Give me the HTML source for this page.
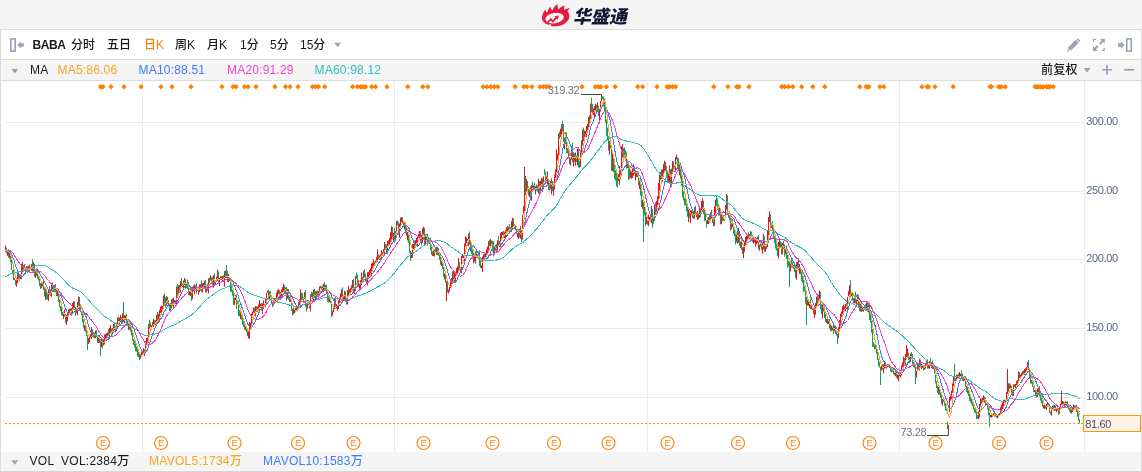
<!DOCTYPE html>
<html lang="zh-CN">
<head>
<meta charset="utf-8">
<title>华盛通 - BABA 日K</title>
<style>
html,body{margin:0;padding:0;}
body{width:1142px;height:472px;overflow:hidden;background:#f5f5f5;position:relative;font-family:"Liberation Sans","Noto Sans CJK SC",sans-serif;font-size:12px;color:#1a1a1a;}
.abs{position:absolute;}
#hdr{left:0;top:0;width:1142px;height:29px;background:#f5f5f5;border-bottom:1px solid #dcdcdc;}
#logo-t{left:571.5px;top:2px;font-family:"Noto Sans CJK SC","Liberation Sans",sans-serif;font-weight:900;font-size:18px;line-height:26px;color:#0f1a30;transform:skewX(-12deg);transform-origin:left bottom;letter-spacing:0px;white-space:nowrap;}
#panel{left:0;top:30px;width:1140px;height:441px;background:#fff;border-left:1px solid #dcdcdc;border-right:1px solid #dcdcdc;box-sizing:content-box;}
#tb{left:1px;top:30px;width:1140px;height:29px;background:#fff;border-bottom:1px solid #dcdcdc;}
#ma{left:1px;top:60px;width:1140px;height:20px;background:#f5f5f5;border-bottom:1px solid #dcdcdc;}
#vol{left:1px;top:452px;width:1140px;height:19px;background:#f5f5f5;}
#bot{left:0;top:471px;width:1142px;height:1px;background:#d6d6d6;}
.t{position:absolute;white-space:nowrap;line-height:14px;font-weight:500;}
.tb .t{top:38px;}
.mar .t{top:63px;letter-spacing:0.2px;}
.volr .t{top:454px;letter-spacing:0.27px;}
svg{position:absolute;left:0;top:0;}
svg text{font-family:"Liberation Sans","Noto Sans CJK SC",sans-serif;}
</style>
</head>
<body>
<div id="hdr" class="abs"></div>
<div id="panel" class="abs"></div>
<div id="tb" class="abs"></div>
<div id="ma" class="abs"></div>
<div id="vol" class="abs"></div>
<div id="bot" class="abs"></div>
<div id="logo-t" class="abs">华盛通</div>
<div class="tb">
<span class="t" style="left:32.5px;font-weight:bold;letter-spacing:-0.4px">BABA</span>
<span class="t" style="left:71px">分时</span>
<span class="t" style="left:107px">五日</span>
<span class="t" style="left:144px;color:#ff8000">日K</span>
<span class="t" style="left:175px">周K</span>
<span class="t" style="left:207px">月K</span>
<span class="t" style="left:240px">1分</span>
<span class="t" style="left:270px">5分</span>
<span class="t" style="left:300px">15分</span>
</div>
<div class="mar">
<span class="t" style="left:30px">MA</span>
<span class="t" style="left:57.5px;color:#f5a623">MA5:86.06</span>
<span class="t" style="left:138.5px;color:#3d7bff">MA10:88.51</span>
<span class="t" style="left:227px;color:#ff3ec8">MA20:91.29</span>
<span class="t" style="left:314.5px;color:#2fc1c1">MA60:98.12</span>
<span class="t" style="left:1041px">前复权</span>
</div>
<div class="volr">
<span class="t" style="left:29.5px">VOL</span>
<span class="t" style="left:61px">VOL:2384万</span>
<span class="t" style="left:149px;color:#f5a623">MAVOL5:1734万</span>
<span class="t" style="left:263px;color:#3d7bff">MAVOL10:1583万</span>
</div>
<svg width="1142" height="472" viewBox="0 0 1142 472">
<!-- logo -->
<g id="logo" fill="#e8193c">
<path d="M547.6,24.6C544,23 541.6,20.5 542,17.5C542.3,14.5 543.5,11.8 545.5,9.5C545.6,11 546.2,12 547.3,12.6C547.8,10.2 548.8,8.2 550.3,6.7C550.6,8.4 551.3,9.6 552.5,10.4C553.6,7.8 555.3,5.6 557.6,4.1C557.4,6.2 557.7,8 558.6,9.4C560.2,7.4 562.2,6 564.6,5.4C564,7 563.9,8.6 564.4,10C566.2,8.8 568.2,8.1 570.3,7.9C568.9,8.9 568,10.1 567.5,11.5C569.3,13.5 569.8,16 569,18.4C567.5,22.5 562.5,25.6 556.5,26.2C554.5,26.4 552.6,26.2 551,25.7L547.6,24.6Z"/>
</g>
<ellipse cx="554.6" cy="18.2" rx="9.3" ry="5.2" fill="#f5f5f5" transform="rotate(-9 554.6 18.2)"/>
<path d="M547.2,24.9L551.2,24.2L550.6,26.2Z" fill="#f5f5f5"/>
<path d="M547.9,22.3L550.7,19.2L552.8,21.4L556.3,17.6" fill="none" stroke="#e8193c" stroke-width="1.8"/>
<path d="M554.2,16.5L558.9,15.6L557.7,19.8Z" fill="#e8193c"/>
<!-- toolbar icons -->
<g fill="none" stroke="#98a2b8" stroke-width="1.6">
<rect x="10.8" y="38.9" width="4.4" height="12.2"/>
<rect x="1126.8" y="38.9" width="4.4" height="12.2"/>
</g>
<g fill="#98a2b8">
<path d="M17.3,45L20.8,41.3V43.2H23.8V46.8H20.8V48.7Z"/>
<path d="M1124.4,45.1L1120.9,41.4V43.3H1118V46.9H1120.9V48.8Z"/>
<path d="M334.3,42.8h6.8l-3.4,4.4z"/>
<path d="M11.3,69h7l-3.5,4.4z"/>
<path d="M11.3,460.3h7l-3.5,4.4z"/>
<path d="M1083.6,68h7l-3.5,4.4z"/>
<path d="M1102,68.9h10v1.7h-10zM1106.15,64.8h1.7v9.9h-1.7z"/>
<path d="M1124,68.9h10v1.7h-10z"/>
<!-- pencil -->
<path d="M1067.7,47.9L1075.8,39.8L1078.7,42.7L1070.6,50.8ZM1066.9,51.5L1067.4,48.9L1069.5,51ZM1076.5,39.1L1077.6,38L1080.4,40.8L1079.3,41.9Z"/>
<!-- fullscreen -->
<path d="M1092.9,39h3.2v1.1h-2.1v1.9h-1.1zM1104.8,50.9h-3.1v-1.1h2v-1.9h1.1zM1100.1,39H1104.8V43.7L1103.2,42.1L1100.6,44.7L1099.1,43.2L1101.7,40.6ZM1092.9,46.2V50.9H1097.6L1096,49.3L1098.6,46.7L1097.1,45.2L1094.5,47.8Z"/>
</g>
<!-- grid -->
<path d="M5,122.5H1084M5,191.5H1084M5,259.5H1084M5,328.5H1084M5,397.5H1084M142.5,81V452M394.5,81V452M647.5,81V452M899.5,81V452M1084.5,81V452" stroke="#ebebeb" stroke-width="1" fill="none"/>
<g font-size="11" fill="#5b6685" letter-spacing="-0.35"><text x="1086.3" y="124.9">300.00</text><text x="1086.3" y="193.9">250.00</text><text x="1086.3" y="261.9">200.00</text><text x="1086.3" y="330.9">150.00</text><text x="1086.3" y="399.9">100.00</text></g>
<!-- events -->
<path d="M97.8,86.8l2.7,-2.7l2.7,2.7l-2.7,2.7zM100.3,86.8l2.7,-2.7l2.7,2.7l-2.7,2.7zM108.3,86.8l2.7,-2.7l2.7,2.7l-2.7,2.7zM121.3,86.8l2.7,-2.7l2.7,2.7l-2.7,2.7zM138.3,86.8l2.7,-2.7l2.7,2.7l-2.7,2.7zM158.3,86.8l2.7,-2.7l2.7,2.7l-2.7,2.7zM169.3,86.8l2.7,-2.7l2.7,2.7l-2.7,2.7zM188.3,86.8l2.7,-2.7l2.7,2.7l-2.7,2.7zM219.3,86.8l2.7,-2.7l2.7,2.7l-2.7,2.7zM230.3,86.8l2.7,-2.7l2.7,2.7l-2.7,2.7zM233.3,86.8l2.7,-2.7l2.7,2.7l-2.7,2.7zM241.8,86.8l2.7,-2.7l2.7,2.7l-2.7,2.7zM245.3,86.8l2.7,-2.7l2.7,2.7l-2.7,2.7zM253.3,86.8l2.7,-2.7l2.7,2.7l-2.7,2.7zM272.3,86.8l2.7,-2.7l2.7,2.7l-2.7,2.7zM282.9,86.8l2.7,-2.7l2.7,2.7l-2.7,2.7zM287.3,86.8l2.7,-2.7l2.7,2.7l-2.7,2.7zM295.3,86.8l2.7,-2.7l2.7,2.7l-2.7,2.7zM309.7,86.8l2.7,-2.7l2.7,2.7l-2.7,2.7zM312.7,86.8l2.7,-2.7l2.7,2.7l-2.7,2.7zM315.7,86.8l2.7,-2.7l2.7,2.7l-2.7,2.7zM322.0,86.8l2.7,-2.7l2.7,2.7l-2.7,2.7zM349.8,86.8l2.7,-2.7l2.7,2.7l-2.7,2.7zM354.8,86.8l2.7,-2.7l2.7,2.7l-2.7,2.7zM357.8,86.8l2.7,-2.7l2.7,2.7l-2.7,2.7zM360.3,86.8l2.7,-2.7l2.7,2.7l-2.7,2.7zM362.8,86.8l2.7,-2.7l2.7,2.7l-2.7,2.7zM369.0,86.8l2.7,-2.7l2.7,2.7l-2.7,2.7zM372.8,86.8l2.7,-2.7l2.7,2.7l-2.7,2.7zM384.3,86.8l2.7,-2.7l2.7,2.7l-2.7,2.7zM405.1,86.8l2.7,-2.7l2.7,2.7l-2.7,2.7zM420.1,86.8l2.7,-2.7l2.7,2.7l-2.7,2.7zM425.1,86.8l2.7,-2.7l2.7,2.7l-2.7,2.7zM480.5,86.8l2.7,-2.7l2.7,2.7l-2.7,2.7zM484.3,86.8l2.7,-2.7l2.7,2.7l-2.7,2.7zM488.0,86.8l2.7,-2.7l2.7,2.7l-2.7,2.7zM491.5,86.8l2.7,-2.7l2.7,2.7l-2.7,2.7zM495.0,86.8l2.7,-2.7l2.7,2.7l-2.7,2.7zM512.5,86.8l2.7,-2.7l2.7,2.7l-2.7,2.7zM521.1,86.8l2.7,-2.7l2.7,2.7l-2.7,2.7zM524.1,86.8l2.7,-2.7l2.7,2.7l-2.7,2.7zM529.1,86.8l2.7,-2.7l2.7,2.7l-2.7,2.7zM537.3,86.8l2.7,-2.7l2.7,2.7l-2.7,2.7zM540.6,86.8l2.7,-2.7l2.7,2.7l-2.7,2.7zM543.6,86.8l2.7,-2.7l2.7,2.7l-2.7,2.7zM546.6,86.8l2.7,-2.7l2.7,2.7l-2.7,2.7zM579.3,86.8l2.7,-2.7l2.7,2.7l-2.7,2.7zM592.7,86.8l2.7,-2.7l2.7,2.7l-2.7,2.7zM595.7,86.8l2.7,-2.7l2.7,2.7l-2.7,2.7zM598.3,86.8l2.7,-2.7l2.7,2.7l-2.7,2.7zM603.7,86.8l2.7,-2.7l2.7,2.7l-2.7,2.7zM612.5,86.8l2.7,-2.7l2.7,2.7l-2.7,2.7zM635.0,86.8l2.7,-2.7l2.7,2.7l-2.7,2.7zM640.0,86.8l2.7,-2.7l2.7,2.7l-2.7,2.7zM654.3,86.8l2.7,-2.7l2.7,2.7l-2.7,2.7zM664.3,86.8l2.7,-2.7l2.7,2.7l-2.7,2.7zM666.8,86.8l2.7,-2.7l2.7,2.7l-2.7,2.7zM669.8,86.8l2.7,-2.7l2.7,2.7l-2.7,2.7zM672.8,86.8l2.7,-2.7l2.7,2.7l-2.7,2.7zM711.1,86.8l2.7,-2.7l2.7,2.7l-2.7,2.7zM725.2,86.8l2.7,-2.7l2.7,2.7l-2.7,2.7zM733.9,86.8l2.7,-2.7l2.7,2.7l-2.7,2.7zM736.4,86.8l2.7,-2.7l2.7,2.7l-2.7,2.7zM746.2,86.8l2.7,-2.7l2.7,2.7l-2.7,2.7zM779.0,86.8l2.7,-2.7l2.7,2.7l-2.7,2.7zM782.0,86.8l2.7,-2.7l2.7,2.7l-2.7,2.7zM785.8,86.8l2.7,-2.7l2.7,2.7l-2.7,2.7zM790.3,86.8l2.7,-2.7l2.7,2.7l-2.7,2.7zM799.0,86.8l2.7,-2.7l2.7,2.7l-2.7,2.7zM810.1,86.8l2.7,-2.7l2.7,2.7l-2.7,2.7zM822.1,86.8l2.7,-2.7l2.7,2.7l-2.7,2.7zM857.1,86.8l2.7,-2.7l2.7,2.7l-2.7,2.7zM863.4,86.8l2.7,-2.7l2.7,2.7l-2.7,2.7zM866.2,86.8l2.7,-2.7l2.7,2.7l-2.7,2.7zM877.2,86.8l2.7,-2.7l2.7,2.7l-2.7,2.7zM881.2,86.8l2.7,-2.7l2.7,2.7l-2.7,2.7zM919.3,86.8l2.7,-2.7l2.7,2.7l-2.7,2.7zM924.5,86.8l2.7,-2.7l2.7,2.7l-2.7,2.7zM925.9,86.8l2.7,-2.7l2.7,2.7l-2.7,2.7zM932.3,86.8l2.7,-2.7l2.7,2.7l-2.7,2.7zM950.5,86.8l2.7,-2.7l2.7,2.7l-2.7,2.7zM987.3,86.8l2.7,-2.7l2.7,2.7l-2.7,2.7zM988.8,86.8l2.7,-2.7l2.7,2.7l-2.7,2.7zM996.0,86.8l2.7,-2.7l2.7,2.7l-2.7,2.7zM998.6,86.8l2.7,-2.7l2.7,2.7l-2.7,2.7zM1002.6,86.8l2.7,-2.7l2.7,2.7l-2.7,2.7zM1032.3,86.8l2.7,-2.7l2.7,2.7l-2.7,2.7zM1034.1,86.8l2.7,-2.7l2.7,2.7l-2.7,2.7zM1036.1,86.8l2.7,-2.7l2.7,2.7l-2.7,2.7zM1038.1,86.8l2.7,-2.7l2.7,2.7l-2.7,2.7zM1040.6,86.8l2.7,-2.7l2.7,2.7l-2.7,2.7zM1043.6,86.8l2.7,-2.7l2.7,2.7l-2.7,2.7zM1045.6,86.8l2.7,-2.7l2.7,2.7l-2.7,2.7zM1047.6,86.8l2.7,-2.7l2.7,2.7l-2.7,2.7zM1050.6,86.8l2.7,-2.7l2.7,2.7l-2.7,2.7z" fill="#ff8000"/>
<!-- candles -->
<path d="M5.5,245.5V250.3M7.5,250.9V255.9M9.5,252.9V258.3M14.5,278.1V280.4M16.5,280.2V286.7M17.5,270.8V283.1M19.5,274.3V280.9M20.5,274.6V279.1M21.5,263.8V279.2M22.5,261.8V273.5M26.5,266.1V271.7M28.5,265.7V270.6M30.5,267.8V270.2M31.5,264.1V270.5M33.5,262.0V271.4M35.5,269.0V277.8M41.5,283.2V288.3M42.5,283.1V286.2M45.5,289.3V299.9M48.5,290.1V301.1M51.5,285.0V296.8M54.5,284.8V290.6M57.5,289.6V296.4M63.5,313.6V319.1M64.5,309.6V316.4M66.5,314.9V325.1M67.5,313.7V321.3M68.5,309.5V316.2M69.5,308.7V312.9M70.5,308.6V310.8M72.5,302.9V313.0M73.5,301.1V308.4M76.5,308.1V313.0M77.5,302.2V315.1M78.5,296.5V305.6M84.5,325.2V330.9M88.5,338.1V343.8M89.5,336.0V342.2M90.5,334.3V338.1M91.5,327.0V339.2M95.5,330.7V338.2M98.5,334.9V343.0M101.5,339.0V347.2M103.5,339.0V345.3M104.5,334.6V344.5M105.5,333.8V338.5M107.5,332.5V337.9M109.5,327.7V339.0M110.5,325.0V333.5M112.5,328.1V335.1M113.5,323.7V331.1M116.5,322.6V331.0M117.5,317.6V328.0M119.5,317.6V325.4M120.5,314.9V322.3M122.5,313.4V323.5M124.5,315.1V323.2M125.5,315.4V318.3M128.5,323.4V329.8M140.5,354.6V358.6M141.5,351.5V356.5M142.5,350.8V354.1M143.5,348.3V352.9M144.5,349.1V355.9M145.5,341.1V352.9M146.5,338.1V343.3M147.5,337.4V341.7M148.5,324.0V342.9M151.5,325.3V329.3M152.5,321.9V327.1M153.5,318.7V327.1M155.5,320.1V325.3M156.5,314.9V323.6M158.5,313.9V322.4M159.5,310.1V320.5M160.5,306.7V313.1M161.5,305.7V312.0M162.5,306.0V310.5M163.5,295.3V308.6M166.5,296.3V305.6M171.5,299.4V308.3M173.5,297.8V308.0M174.5,300.1V303.9M175.5,299.8V304.2M176.5,286.5V304.8M178.5,285.2V296.5M180.5,281.2V292.7M182.5,283.6V287.0M183.5,280.6V288.3M184.5,278.0V285.1M189.5,291.0V295.3M190.5,288.4V296.1M192.5,286.8V299.0M194.5,284.2V294.2M195.5,285.5V290.8M198.5,289.4V294.9M199.5,284.4V292.1M200.5,284.2V290.6M202.5,283.5V292.4M203.5,282.9V286.3M204.5,280.7V287.8M206.5,286.6V292.6M208.5,278.2V293.3M210.5,275.1V280.4M213.5,275.2V287.7M215.5,281.7V285.3M216.5,276.6V282.1M217.5,269.5V278.8M219.5,277.9V286.2M220.5,276.3V279.5M221.5,276.2V279.6M222.5,276.0V281.4M224.5,271.0V286.6M228.5,273.8V282.3M229.5,278.4V281.0M234.5,297.7V304.8M235.5,295.1V300.1M240.5,312.3V319.3M245.5,326.5V330.4M248.5,331.7V338.4M249.5,321.9V338.7M250.5,322.7V329.1M251.5,313.4V328.6M252.5,311.8V315.5M253.5,307.5V312.7M255.5,306.2V316.4M257.5,306.5V312.0M258.5,304.4V310.6M259.5,300.2V312.9M260.5,303.7V308.0M262.5,303.7V313.8M263.5,300.3V308.8M264.5,304.2V306.7M265.5,299.1V307.3M266.5,292.5V301.1M267.5,290.7V292.5M269.5,291.4V300.5M273.5,301.2V305.7M275.5,299.6V302.2M276.5,292.5V300.7M277.5,290.3V296.5M278.5,288.9V293.7M280.5,291.7V299.6M281.5,289.3V297.0M282.5,287.0V292.4M283.5,283.7V290.9M287.5,288.8V298.8M290.5,299.3V302.0M293.5,308.3V314.5M294.5,308.9V312.9M296.5,307.5V310.7M297.5,307.4V309.8M298.5,302.3V308.6M299.5,299.3V307.7M300.5,289.4V303.2M304.5,292.0V298.8M307.5,303.9V308.7M308.5,301.8V304.9M310.5,294.2V311.4M313.5,289.6V300.9M316.5,291.4V297.9M318.5,291.2V296.5M319.5,286.5V295.6M321.5,286.6V290.1M323.5,283.8V292.4M325.5,284.9V290.7M329.5,298.4V302.0M332.5,310.8V315.7M333.5,307.5V312.1M334.5,297.8V309.1M336.5,304.1V308.4M337.5,304.8V310.6M338.5,300.4V309.2M339.5,297.5V303.3M340.5,293.4V299.9M341.5,289.5V297.0M343.5,295.1V299.0M344.5,290.8V300.1M347.5,290.2V304.7M348.5,286.0V295.1M350.5,288.1V293.8M351.5,285.4V291.6M352.5,279.9V290.6M354.5,288.0V293.8M355.5,276.2V290.0M358.5,280.2V286.7M359.5,283.6V288.7M360.5,280.2V288.8M361.5,272.5V285.2M363.5,270.9V280.7M367.5,272.2V285.5M368.5,272.1V277.9M369.5,270.1V275.7M370.5,268.4V275.7M371.5,263.4V274.4M372.5,262.5V271.2M373.5,259.3V268.4M375.5,260.5V263.7M376.5,257.3V260.6M377.5,249.4V262.0M379.5,255.6V259.7M380.5,254.3V261.4M381.5,250.2V258.2M382.5,252.0V254.7M383.5,249.1V253.8M384.5,242.0V255.1M387.5,241.0V253.6M388.5,240.5V244.8M389.5,238.1V245.2M390.5,232.3V242.7M391.5,226.3V240.0M393.5,232.9V240.3M395.5,231.1V240.8M396.5,220.8V233.4M399.5,223.5V237.8M400.5,217.6V227.6M401.5,217.3V222.1M404.5,222.8V229.6M407.5,232.1V240.5M411.5,252.4V257.8M412.5,243.9V257.9M413.5,244.0V249.3M415.5,240.1V247.8M416.5,237.9V244.7M417.5,235.9V246.9M418.5,233.9V238.1M419.5,231.0V239.1M421.5,234.7V245.3M422.5,228.3V242.7M423.5,226.8V234.0M425.5,234.2V245.3M429.5,239.4V244.1M433.5,250.6V256.0M434.5,249.7V256.5M436.5,247.1V254.8M441.5,261.0V266.0M444.5,273.5V279.4M446.5,280.8V301.0M448.5,289.5V293.6M449.5,285.7V291.4M450.5,281.2V288.0M451.5,278.1V286.4M452.5,271.3V282.1M454.5,272.6V281.7M455.5,274.2V282.1M456.5,267.9V276.1M457.5,266.6V273.2M458.5,258.2V271.0M460.5,268.7V271.9M461.5,255.8V273.4M462.5,253.9V258.0M463.5,255.1V258.0M464.5,243.5V262.2M465.5,236.3V246.4M466.5,237.5V243.0M467.5,239.0V240.7M468.5,233.5V246.1M474.5,256.9V261.8M475.5,251.6V263.5M477.5,254.5V257.7M481.5,265.3V268.4M482.5,256.4V272.0M483.5,254.2V260.3M485.5,253.0V261.2M486.5,249.4V257.3M487.5,246.7V255.1M488.5,241.3V251.2M490.5,239.0V247.0M494.5,245.9V254.4M497.5,240.4V250.7M499.5,241.2V246.8M500.5,232.7V247.4M501.5,232.1V238.5M502.5,231.7V235.1M504.5,232.2V238.2M505.5,230.4V237.2M506.5,227.3V231.5M507.5,225.9V232.5M511.5,221.1V230.0M512.5,217.9V229.7M517.5,233.2V237.4M518.5,232.1V238.9M520.5,226.1V238.9M522.5,214.6V239.8M523.5,206.3V213.7M524.5,167.0V211.5M526.5,179.0V191.4M529.5,189.6V197.1M531.5,184.8V200.5M533.5,185.7V189.1M535.5,186.3V194.2M536.5,184.6V190.5M538.5,178.8V193.4M540.5,180.8V190.7M541.5,177.9V184.6M543.5,176.3V189.1M546.5,176.6V181.1M547.5,171.4V184.5M551.5,178.5V194.4M553.5,186.9V195.8M554.5,174.5V189.5M555.5,169.3V177.8M556.5,149.3V172.6M557.5,153.8V160.5M558.5,133.6V160.5M560.5,128.8V136.8M561.5,124.2V134.3M564.5,137.8V149.1M570.5,158.6V165.5M571.5,149.4V159.8M573.5,153.1V166.5M575.5,152.4V165.6M577.5,148.5V165.3M580.5,150.3V167.1M581.5,140.4V153.4M582.5,129.6V145.5M584.5,130.6V138.7M585.5,131.1V135.1M586.5,125.9V137.2M587.5,123.9V130.9M588.5,116.9V127.8M590.5,103.6V120.5M593.5,108.3V115.2M594.5,106.0V117.2M595.5,103.8V111.4M597.5,102.5V110.1M599.5,109.3V123.6M600.5,101.1V111.6M601.5,95.0V101.5M609.5,140.9V154.7M612.5,151.6V171.1M618.5,174.3V181.0M619.5,166.2V184.9M620.5,169.7V178.9M621.5,146.3V175.3M622.5,144.0V157.3M627.5,162.6V168.0M630.5,170.2V177.7M631.5,171.9V178.8M632.5,168.3V178.1M633.5,164.2V175.6M635.5,172.6V180.5M636.5,171.8V176.9M639.5,181.1V188.9M642.5,200.1V208.7M646.5,216.7V224.0M648.5,214.6V226.1M649.5,217.1V221.3M651.5,206.0V223.2M654.5,205.1V221.0M656.5,201.0V215.3M657.5,196.1V205.9M658.5,182.8V201.5M659.5,172.4V190.6M660.5,172.2V179.8M662.5,169.5V181.5M663.5,164.2V176.7M664.5,160.8V171.7M668.5,172.5V182.8M669.5,165.4V182.7M671.5,168.7V183.5M672.5,161.0V171.1M674.5,165.6V168.3M675.5,157.0V170.3M676.5,154.6V159.3M679.5,162.8V175.3M688.5,208.6V222.1M690.5,210.4V223.2M691.5,210.3V215.2M694.5,207.2V218.3M696.5,212.6V217.1M697.5,211.2V219.9M699.5,208.4V218.2M701.5,201.0V213.4M702.5,198.2V209.6M707.5,219.3V224.1M708.5,217.1V224.0M710.5,212.5V221.1M714.5,206.3V225.9M715.5,199.7V217.8M719.5,207.5V215.4M721.5,214.7V224.5M723.5,216.3V220.6M724.5,217.7V221.1M725.5,205.1V217.4M726.5,194.2V209.7M731.5,223.3V229.4M732.5,219.1V227.0M736.5,234.2V242.3M738.5,227.9V242.8M740.5,241.7V248.1M743.5,244.7V258.1M744.5,241.8V251.8M745.5,236.6V245.2M746.5,235.5V241.6M747.5,234.5V242.5M749.5,234.1V239.6M753.5,238.0V243.6M754.5,236.9V242.4M755.5,239.3V246.3M756.5,238.6V244.5M757.5,236.5V242.8M759.5,244.6V250.9M760.5,241.2V246.2M762.5,243.2V253.7M763.5,234.0V249.2M765.5,244.5V251.5M766.5,244.1V248.9M767.5,230.5V247.1M768.5,217.0V235.6M769.5,211.5V222.3M771.5,224.5V228.2M778.5,242.0V258.6M779.5,240.0V248.4M782.5,243.0V254.3M785.5,248.0V254.2M790.5,262.4V271.3M793.5,265.0V268.7M796.5,262.4V279.8M797.5,262.0V265.9M799.5,264.1V273.8M807.5,299.6V305.6M808.5,301.6V305.8M809.5,302.0V307.8M811.5,305.3V309.2M812.5,308.2V309.9M814.5,307.7V318.1M815.5,303.0V314.7M816.5,296.7V306.7M818.5,294.9V304.5M819.5,290.3V300.0M822.5,303.2V318.2M827.5,318.3V324.2M828.5,319.5V324.0M831.5,325.3V330.8M832.5,326.7V330.4M834.5,325.2V331.2M838.5,327.2V338.2M839.5,319.9V331.1M840.5,313.7V324.9M841.5,311.4V316.9M842.5,306.1V313.9M843.5,304.5V310.4M844.5,306.5V309.0M845.5,304.0V311.5M847.5,296.9V311.4M848.5,291.1V296.2M849.5,285.0V295.3M851.5,293.3V296.1M854.5,295.4V303.5M856.5,300.0V305.5M857.5,294.3V301.4M860.5,301.6V311.5M862.5,305.9V311.2M863.5,307.0V311.7M866.5,302.4V310.2M868.5,304.1V312.6M881.5,365.6V370.3M883.5,364.4V373.5M884.5,361.8V368.7M886.5,365.9V368.7M887.5,363.9V367.3M889.5,364.5V368.1M892.5,368.8V371.3M895.5,371.3V376.4M897.5,374.5V378.8M898.5,373.1V381.3M899.5,372.4V376.2M900.5,372.3V377.3M901.5,365.3V375.6M902.5,362.4V367.5M903.5,356.7V365.9M905.5,353.9V365.6M906.5,345.0V357.2M907.5,348.3V357.5M910.5,353.5V362.1M916.5,371.0V377.5M917.5,364.6V370.8M919.5,359.1V370.5M921.5,363.6V368.8M922.5,364.6V367.7M924.5,365.5V369.7M925.5,362.8V368.6M926.5,360.4V363.9M928.5,364.0V368.5M929.5,361.4V368.6M931.5,362.4V368.1M933.5,363.7V369.1M938.5,386.9V394.4M942.5,398.9V405.7M948.5,425.0V435.0M949.5,397.0V412.0M950.5,395.5V400.7M951.5,390.6V399.1M952.5,383.4V392.8M953.5,376.0V386.1M955.5,378.4V381.0M956.5,374.9V380.8M957.5,374.9V378.6M959.5,372.1V378.7M960.5,373.8V376.4M963.5,378.6V380.9M964.5,376.5V380.5M978.5,411.3V419.1M979.5,404.0V417.3M980.5,398.6V406.6M982.5,397.8V403.5M983.5,395.3V400.6M986.5,402.9V404.9M990.5,414.8V417.2M991.5,414.7V417.7M992.5,413.8V416.8M993.5,413.2V415.2M997.5,414.8V418.3M998.5,414.1V416.5M999.5,413.1V415.9M1000.5,407.3V414.6M1001.5,404.5V409.8M1002.5,402.2V409.8M1003.5,399.9V407.3M1004.5,399.6V402.6M1005.5,400.2V403.4M1006.5,391.9V401.1M1007.5,369.0V394.1M1008.5,383.4V391.6M1010.5,384.6V387.8M1013.5,384.4V396.2M1015.5,384.1V388.0M1016.5,380.9V387.7M1017.5,380.4V384.3M1018.5,371.4V383.4M1020.5,374.6V378.2M1021.5,373.2V376.4M1022.5,371.3V376.0M1024.5,369.0V375.0M1025.5,368.6V372.3M1026.5,367.0V372.0M1027.5,362.0V367.5M1034.5,390.2V392.1M1037.5,388.5V397.2M1038.5,388.4V395.0M1043.5,405.1V408.4M1044.5,405.1V408.8M1046.5,404.3V410.0M1047.5,402.8V406.5M1048.5,402.8V406.3M1051.5,407.9V415.4M1052.5,405.8V409.6M1054.5,404.9V411.1M1056.5,408.6V412.3M1057.5,407.6V410.7M1059.5,407.2V413.8M1060.5,403.9V408.9M1061.5,391.0V404.7M1062.5,401.0V404.5M1064.5,402.5V406.4M1065.5,401.4V405.1M1071.5,408.6V413.6M1072.5,408.2V412.2M1073.5,404.5V410.4M1075.5,405.6V408.4" stroke="#e8112d" stroke-width="1" fill="none"/>
<path d="M6.5,247.5V253.5M8.5,249.2V257.7M10.5,253.0V262.4M11.5,255.7V270.0M12.5,269.9V274.1M13.5,269.6V280.0M15.5,280.1V285.0M18.5,273.6V279.8M23.5,265.0V269.7M24.5,264.1V268.9M25.5,268.4V271.8M27.5,266.3V273.0M29.5,264.4V271.8M32.5,259.1V271.5M34.5,263.8V276.6M36.5,268.5V276.2M37.5,268.3V278.5M38.5,274.5V280.6M39.5,277.0V286.2M40.5,283.1V288.9M43.5,280.4V289.9M44.5,286.5V296.7M46.5,291.9V299.6M47.5,292.2V299.6M49.5,286.1V295.0M50.5,289.6V295.9M52.5,282.6V289.7M53.5,286.7V292.2M55.5,284.1V292.3M56.5,290.2V296.1M58.5,290.1V301.9M59.5,299.5V307.2M60.5,306.0V311.3M61.5,304.6V315.2M62.5,311.9V316.0M65.5,313.9V323.0M71.5,308.1V315.9M74.5,301.6V309.9M75.5,307.0V315.9M79.5,296.8V310.6M80.5,304.3V312.1M81.5,311.1V315.1M82.5,311.7V322.6M83.5,319.2V327.7M85.5,325.5V331.8M86.5,328.8V336.1M87.5,335.1V350.0M92.5,329.2V337.1M93.5,332.0V337.7M94.5,332.7V338.4M96.5,330.1V337.0M97.5,335.3V342.7M99.5,335.2V343.0M100.5,339.4V356.0M102.5,338.7V348.6M106.5,333.1V338.6M108.5,329.1V336.3M111.5,328.3V333.4M114.5,322.1V330.1M115.5,326.2V332.5M118.5,316.5V321.1M121.5,317.0V322.4M123.5,302.0V322.1M126.5,313.9V323.8M127.5,320.5V326.2M129.5,323.2V329.9M130.5,326.4V331.6M131.5,326.5V335.4M132.5,332.8V340.8M133.5,339.2V345.1M134.5,340.5V347.7M135.5,342.1V351.5M136.5,344.9V351.7M137.5,346.7V356.6M138.5,351.5V357.0M139.5,352.4V360.3M149.5,319.7V328.7M150.5,322.2V327.3M154.5,320.1V325.3M157.5,312.0V323.0M164.5,293.6V303.5M165.5,297.6V307.3M167.5,296.8V303.7M168.5,300.2V306.2M169.5,304.7V311.1M170.5,304.2V311.1M172.5,298.5V304.3M177.5,284.0V296.6M179.5,284.9V290.6M181.5,277.9V287.7M185.5,279.2V288.7M186.5,283.1V288.4M187.5,279.4V288.9M188.5,282.0V295.3M191.5,289.3V301.0M193.5,285.5V292.0M196.5,282.9V293.7M197.5,287.4V291.1M201.5,280.4V292.4M205.5,280.0V292.4M207.5,283.6V290.7M209.5,277.7V282.5M211.5,277.2V281.8M212.5,276.7V285.5M214.5,273.6V285.6M218.5,271.3V283.6M223.5,275.4V281.9M225.5,270.5V277.1M226.5,265.0V276.8M227.5,270.8V281.9M230.5,278.9V291.7M231.5,281.7V291.8M232.5,289.7V295.7M233.5,289.1V305.1M236.5,294.9V308.9M237.5,301.5V303.8M238.5,300.7V316.0M239.5,310.2V316.4M241.5,311.3V319.6M242.5,314.5V324.8M243.5,320.0V326.8M244.5,324.3V329.8M246.5,326.6V332.1M247.5,330.6V336.2M254.5,307.7V315.6M256.5,306.4V310.6M261.5,302.8V310.4M268.5,289.6V299.3M270.5,291.4V297.6M271.5,297.0V304.1M272.5,302.1V307.0M274.5,298.0V304.0M279.5,290.3V298.6M284.5,285.4V293.6M285.5,287.3V294.2M286.5,286.9V300.6M288.5,289.1V299.7M289.5,297.0V302.0M291.5,301.6V311.0M292.5,308.6V315.7M295.5,307.4V312.3M301.5,293.0V301.0M302.5,293.0V300.1M303.5,297.6V302.5M305.5,290.0V306.7M306.5,303.2V311.6M309.5,301.3V308.4M311.5,291.5V297.1M312.5,292.5V300.3M314.5,288.8V297.9M315.5,291.0V298.8M317.5,290.4V295.6M320.5,285.8V288.4M322.5,285.5V291.3M324.5,282.3V289.0M326.5,284.8V293.0M327.5,292.0V301.7M328.5,295.7V302.6M330.5,297.2V303.1M331.5,303.6V317.0M335.5,296.6V306.5M342.5,287.3V302.5M345.5,291.7V301.5M346.5,298.3V304.3M349.5,289.0V293.4M353.5,279.0V293.2M356.5,272.5V278.9M357.5,274.6V286.2M362.5,277.2V282.5M364.5,269.5V277.9M365.5,273.5V281.5M366.5,279.2V283.8M374.5,261.7V265.7M378.5,254.2V258.9M385.5,243.8V248.7M386.5,244.5V254.1M392.5,226.9V237.1M394.5,227.7V243.1M397.5,220.6V225.4M398.5,221.9V235.1M402.5,217.0V223.3M403.5,220.8V225.4M405.5,225.0V233.2M406.5,226.3V236.3M408.5,232.3V242.8M409.5,240.4V253.2M410.5,250.5V261.0M414.5,240.6V249.5M420.5,230.9V242.0M424.5,227.7V245.2M426.5,233.9V240.5M427.5,234.1V245.6M428.5,237.5V243.3M430.5,237.6V250.1M431.5,246.7V254.7M432.5,251.3V256.2M435.5,247.3V252.6M437.5,246.9V255.4M438.5,248.1V255.7M439.5,253.3V260.1M440.5,253.1V264.8M442.5,263.8V268.8M443.5,263.3V276.7M445.5,274.4V282.8M447.5,279.3V292.7M453.5,270.9V281.7M459.5,262.0V270.3M469.5,231.4V244.6M470.5,241.0V251.6M471.5,246.3V253.9M472.5,249.4V258.5M473.5,250.0V263.3M476.5,249.1V257.7M478.5,251.4V258.9M479.5,250.2V266.1M480.5,260.4V267.9M484.5,253.3V257.7M489.5,239.7V246.3M491.5,240.4V245.9M492.5,241.0V251.5M493.5,241.1V256.4M495.5,244.8V250.8M496.5,243.7V252.1M498.5,235.8V245.9M503.5,231.0V237.5M508.5,226.9V230.0M509.5,224.2V233.6M510.5,227.2V230.7M513.5,218.3V227.1M514.5,224.2V227.9M515.5,226.0V230.4M516.5,229.1V233.9M519.5,228.6V237.7M521.5,230.0V242.0M525.5,175.9V194.9M527.5,181.0V192.7M528.5,188.7V195.5M530.5,186.4V198.5M532.5,181.4V188.0M534.5,182.8V190.0M537.5,185.7V191.6M539.5,181.1V195.5M542.5,178.4V192.0M544.5,168.9V174.6M545.5,171.4V183.1M548.5,178.7V190.0M549.5,180.3V190.7M550.5,181.7V189.3M552.5,181.2V191.1M559.5,131.9V138.9M562.5,120.7V132.6M563.5,124.0V141.9M565.5,132.3V143.9M566.5,132.4V153.1M567.5,148.1V153.3M568.5,150.2V158.4M569.5,157.0V164.0M572.5,142.7V162.4M574.5,153.4V161.6M576.5,155.7V162.0M578.5,147.2V167.7M579.5,160.8V167.6M583.5,127.6V141.5M589.5,115.5V124.1M591.5,97.6V112.2M592.5,103.9V114.1M596.5,104.7V112.0M598.5,105.4V116.3M602.5,96.5V99.2M603.5,96.5V106.6M604.5,98.8V111.1M605.5,101.8V122.9M606.5,119.4V135.8M607.5,127.5V140.6M608.5,136.2V150.6M610.5,137.0V148.5M611.5,150.0V170.8M613.5,155.2V172.0M614.5,162.9V179.0M615.5,170.3V180.6M616.5,172.6V186.5M617.5,177.2V187.5M623.5,148.2V157.7M624.5,147.5V157.3M625.5,150.1V158.1M626.5,152.4V168.7M628.5,163.2V179.8M629.5,168.7V179.3M634.5,166.6V174.1M637.5,171.1V177.4M638.5,171.5V185.3M640.5,179.4V195.6M641.5,184.2V206.9M643.5,201.9V242.0M644.5,206.9V215.4M645.5,209.8V226.2M647.5,220.6V224.9M650.5,214.5V221.4M652.5,209.1V227.7M653.5,216.7V223.9M655.5,202.4V214.4M661.5,169.4V179.0M665.5,161.8V171.4M666.5,165.8V174.9M667.5,171.9V182.5M670.5,169.3V186.3M673.5,161.5V169.2M677.5,157.6V166.9M678.5,158.0V170.3M680.5,162.8V178.7M681.5,175.3V186.2M682.5,178.7V197.4M683.5,191.3V200.6M684.5,197.6V205.1M685.5,196.9V205.6M686.5,200.7V211.4M687.5,205.8V216.8M689.5,208.8V217.7M692.5,209.3V217.9M693.5,211.9V219.2M695.5,205.7V214.1M698.5,212.5V219.5M700.5,208.3V217.0M703.5,200.8V214.3M704.5,209.1V221.0M705.5,213.7V220.6M706.5,220.2V227.8M709.5,214.7V222.7M711.5,209.8V218.3M712.5,216.5V222.9M713.5,217.1V226.2M716.5,195.0V205.7M717.5,198.4V207.0M718.5,204.1V215.6M720.5,209.3V224.0M722.5,214.5V221.4M727.5,195.3V213.1M728.5,212.8V217.6M729.5,215.4V220.2M730.5,216.8V230.8M733.5,223.3V234.1M734.5,228.2V236.1M735.5,233.6V244.4M737.5,227.8V243.9M739.5,230.4V245.6M741.5,240.1V250.0M742.5,247.5V254.1M748.5,232.2V238.9M750.5,231.0V238.5M751.5,231.7V236.6M752.5,235.0V242.3M758.5,235.3V249.2M761.5,242.5V249.9M764.5,236.4V251.9M770.5,214.1V225.9M772.5,220.9V230.5M773.5,226.3V238.9M774.5,235.6V243.3M775.5,238.7V248.7M776.5,243.6V250.5M777.5,247.5V256.2M780.5,241.8V247.7M781.5,242.4V254.5M783.5,240.7V248.9M784.5,244.3V256.7M786.5,245.3V258.9M787.5,251.7V267.8M788.5,260.9V266.3M789.5,260.1V287.0M791.5,259.2V267.4M792.5,261.7V267.5M794.5,263.1V271.9M795.5,264.8V277.7M798.5,257.9V270.4M800.5,267.6V274.2M801.5,271.5V281.5M802.5,276.0V282.9M803.5,279.8V292.0M804.5,286.2V291.2M805.5,288.9V303.7M806.5,296.8V325.0M810.5,298.6V309.0M813.5,307.6V313.8M817.5,293.9V303.6M820.5,291.5V309.6M821.5,304.1V314.1M823.5,303.8V311.6M824.5,306.8V318.0M825.5,312.9V322.1M826.5,318.9V323.1M829.5,319.0V328.6M830.5,324.4V331.4M833.5,322.5V334.2M835.5,325.6V334.1M836.5,330.7V335.7M837.5,333.9V344.0M846.5,303.5V309.1M850.5,280.1V297.3M852.5,292.0V300.2M853.5,298.8V303.2M855.5,291.7V303.5M858.5,294.6V306.5M859.5,301.0V311.2M861.5,303.4V311.9M864.5,306.1V309.6M865.5,304.2V311.1M867.5,302.0V311.6M869.5,304.5V320.0M870.5,311.7V322.7M871.5,320.6V332.8M872.5,329.1V346.7M873.5,342.2V347.1M874.5,344.5V349.2M875.5,343.5V349.2M876.5,346.3V353.6M877.5,349.3V360.2M878.5,358.8V366.1M879.5,361.9V367.5M880.5,366.7V385.0M882.5,364.3V369.9M885.5,362.1V367.8M888.5,364.2V366.6M890.5,367.3V371.5M891.5,369.3V372.4M893.5,367.9V374.4M894.5,371.5V375.6M896.5,371.3V377.8M904.5,358.2V364.2M908.5,352.7V360.0M909.5,356.3V363.4M911.5,351.9V359.1M912.5,354.0V364.4M913.5,361.7V367.1M914.5,363.1V367.9M915.5,366.5V384.0M918.5,364.8V369.2M920.5,359.6V367.7M923.5,364.9V370.6M927.5,359.2V368.6M930.5,358.2V364.9M932.5,360.4V369.2M934.5,366.2V373.8M935.5,374.3V383.4M936.5,381.1V388.0M937.5,385.8V392.8M939.5,386.4V394.8M940.5,391.4V397.6M941.5,394.1V403.9M943.5,397.0V401.9M944.5,398.8V405.7M945.5,403.7V410.1M946.5,408.7V411.2M947.5,422.0V429.0M954.5,364.0V380.9M958.5,373.3V379.2M961.5,370.5V377.5M962.5,373.7V380.9M965.5,376.2V387.1M966.5,386.4V392.0M967.5,386.9V393.7M968.5,390.7V396.2M969.5,392.7V401.0M970.5,396.3V402.2M971.5,399.0V404.4M972.5,402.1V406.3M973.5,404.8V409.4M974.5,407.8V412.5M975.5,407.8V413.5M976.5,409.7V419.0M977.5,415.0V419.0M981.5,398.6V403.6M984.5,396.3V401.9M985.5,397.8V405.3M987.5,403.5V409.5M988.5,407.9V415.3M989.5,412.5V427.0M994.5,413.0V416.6M995.5,413.3V416.5M996.5,415.2V417.9M1009.5,383.1V388.8M1011.5,386.2V393.3M1012.5,390.5V396.3M1014.5,384.0V387.1M1019.5,372.0V378.1M1023.5,370.5V374.5M1028.5,359.8V370.4M1029.5,368.9V377.2M1030.5,374.3V383.8M1031.5,379.8V383.5M1032.5,381.6V387.0M1033.5,386.4V391.8M1035.5,390.1V395.6M1036.5,390.1V397.6M1039.5,386.2V396.4M1040.5,394.4V400.6M1041.5,397.7V403.2M1042.5,400.0V406.7M1045.5,405.0V408.6M1049.5,404.0V412.8M1050.5,411.6V414.5M1053.5,404.9V408.5M1055.5,405.6V410.6M1058.5,408.0V414.7M1063.5,401.5V405.6M1066.5,401.5V405.2M1067.5,401.1V407.2M1068.5,404.3V409.4M1069.5,406.0V411.6M1070.5,409.2V413.0M1074.5,405.2V407.9M1076.5,404.9V412.2M1077.5,409.4V416.6M1078.5,413.4V420.5M1079.5,419.0V423.5" stroke="#12a05c" stroke-width="1" fill="none"/>
<g fill="none" stroke-width="1" stroke-linejoin="round" shape-rendering="crispEdges">
<path d="M5.5,277.0 L6.5,276.4 L7.5,275.7 L8.5,275.0 L9.5,274.4 L10.5,273.8 L11.5,273.4 L12.5,273.1 L13.5,272.8 L14.5,272.7 L15.5,272.5 L16.5,272.4 L17.5,272.1 L18.5,272.0 L19.5,271.8 L20.5,271.6 L21.5,271.2 L22.5,270.8 L23.5,270.4 L24.5,270.0 L25.5,269.7 L26.5,269.3 L27.5,268.9 L28.5,268.5 L29.5,268.1 L30.5,267.7 L31.5,267.2 L32.5,266.9 L33.5,266.5 L34.5,266.2 L35.5,265.9 L36.5,265.7 L37.5,265.5 L38.5,265.3 L39.5,265.2 L40.5,265.2 L41.5,265.1 L42.5,265.2 L43.5,265.3 L44.5,265.6 L45.5,265.9 L46.5,266.4 L47.5,266.9 L48.5,267.5 L49.5,268.1 L50.5,268.8 L51.5,269.4 L52.5,270.0 L53.5,270.6 L54.5,271.3 L55.5,272.0 L56.5,272.7 L57.5,273.4 L58.5,274.3 L59.5,275.3 L60.5,276.3 L61.5,277.4 L62.5,278.4 L63.5,279.5 L64.5,280.6 L65.5,281.8 L66.5,282.9 L67.5,283.9 L68.5,284.9 L69.5,285.8 L70.5,286.6 L71.5,287.4 L72.5,288.0 L73.5,288.4 L74.5,288.9 L75.5,289.4 L76.5,289.8 L77.5,290.3 L78.5,290.7 L79.5,291.2 L80.5,291.8 L81.5,292.5 L82.5,293.4 L83.5,294.4 L84.5,295.4 L85.5,296.4 L86.5,297.5 L87.5,298.7 L88.5,299.9 L89.5,301.0 L90.5,302.2 L91.5,303.3 L92.5,304.3 L93.5,305.4 L94.5,306.5 L95.5,307.5 L96.5,308.5 L97.5,309.6 L98.5,310.6 L99.5,311.5 L100.5,312.6 L101.5,313.5 L102.5,314.5 L103.5,315.4 L104.5,316.2 L105.5,316.9 L106.5,317.6 L107.5,318.2 L108.5,318.9 L109.5,319.5 L110.5,320.1 L111.5,320.9 L112.5,321.6 L113.5,322.2 L114.5,322.8 L115.5,323.5 L116.5,324.0 L117.5,324.5 L118.5,324.8 L119.5,325.0 L120.5,325.2 L121.5,325.3 L122.5,325.3 L123.5,325.4 L124.5,325.4 L125.5,325.3 L126.5,325.4 L127.5,325.5 L128.5,325.8 L129.5,326.1 L130.5,326.4 L131.5,326.8 L132.5,327.3 L133.5,328.0 L134.5,328.6 L135.5,329.2 L136.5,329.8 L137.5,330.7 L138.5,331.6 L139.5,332.5 L140.5,333.2 L141.5,333.8 L142.5,334.3 L143.5,334.8 L144.5,335.1 L145.5,335.3 L146.5,335.4 L147.5,335.4 L148.5,335.1 L149.5,334.9 L150.5,334.8 L151.5,334.7 L152.5,334.6 L153.5,334.3 L154.5,334.1 L155.5,333.9 L156.5,333.6 L157.5,333.2 L158.5,332.9 L159.5,332.4 L160.5,331.8 L161.5,331.2 L162.5,330.6 L163.5,329.9 L164.5,329.3 L165.5,328.8 L166.5,328.1 L167.5,327.6 L168.5,327.1 L169.5,326.7 L170.5,326.4 L171.5,325.9 L172.5,325.5 L173.5,325.1 L174.5,324.6 L175.5,324.2 L176.5,323.6 L177.5,323.1 L178.5,322.6 L179.5,322.1 L180.5,321.5 L181.5,320.8 L182.5,320.3 L183.5,319.7 L184.5,319.1 L185.5,318.6 L186.5,318.0 L187.5,317.3 L188.5,316.8 L189.5,316.3 L190.5,315.6 L191.5,315.0 L192.5,314.1 L193.5,313.2 L194.5,312.3 L195.5,311.3 L196.5,310.3 L197.5,309.2 L198.5,308.1 L199.5,306.9 L200.5,305.8 L201.5,304.7 L202.5,303.6 L203.5,302.5 L204.5,301.4 L205.5,300.4 L206.5,299.6 L207.5,298.8 L208.5,298.0 L209.5,297.3 L210.5,296.5 L211.5,295.7 L212.5,295.0 L213.5,294.3 L214.5,293.6 L215.5,292.9 L216.5,292.3 L217.5,291.5 L218.5,290.9 L219.5,290.4 L220.5,289.8 L221.5,289.4 L222.5,288.9 L223.5,288.6 L224.5,288.1 L225.5,287.6 L226.5,287.2 L227.5,286.9 L228.5,286.4 L229.5,286.0 L230.5,285.6 L231.5,285.4 L232.5,285.3 L233.5,285.3 L234.5,285.3 L235.5,285.2 L236.5,285.4 L237.5,285.6 L238.5,286.0 L239.5,286.5 L240.5,287.0 L241.5,287.6 L242.5,288.2 L243.5,289.0 L244.5,289.8 L245.5,290.5 L246.5,291.3 L247.5,292.1 L248.5,292.7 L249.5,293.2 L250.5,293.8 L251.5,294.1 L252.5,294.5 L253.5,294.8 L254.5,295.3 L255.5,295.6 L256.5,295.9 L257.5,296.2 L258.5,296.5 L259.5,296.8 L260.5,297.1 L261.5,297.4 L262.5,297.8 L263.5,298.1 L264.5,298.5 L265.5,298.7 L266.5,298.8 L267.5,298.8 L268.5,299.1 L269.5,299.3 L270.5,299.6 L271.5,300.0 L272.5,300.3 L273.5,300.8 L274.5,301.1 L275.5,301.4 L276.5,301.7 L277.5,302.0 L278.5,302.2 L279.5,302.4 L280.5,302.7 L281.5,302.9 L282.5,303.1 L283.5,303.2 L284.5,303.5 L285.5,303.8 L286.5,304.1 L287.5,304.3 L288.5,304.6 L289.5,305.0 L290.5,305.2 L291.5,305.6 L292.5,305.9 L293.5,306.0 L294.5,306.2 L295.5,306.4 L296.5,306.5 L297.5,306.6 L298.5,306.5 L299.5,306.2 L300.5,305.9 L301.5,305.5 L302.5,305.1 L303.5,304.7 L304.5,304.2 L305.5,303.7 L306.5,303.3 L307.5,302.8 L308.5,302.3 L309.5,302.0 L310.5,301.6 L311.5,301.2 L312.5,301.0 L313.5,300.7 L314.5,300.4 L315.5,300.2 L316.5,299.9 L317.5,299.6 L318.5,299.4 L319.5,299.1 L320.5,298.8 L321.5,298.4 L322.5,298.2 L323.5,297.8 L324.5,297.5 L325.5,297.3 L326.5,297.3 L327.5,297.5 L328.5,297.5 L329.5,297.6 L330.5,297.7 L331.5,297.9 L332.5,298.0 L333.5,298.1 L334.5,298.1 L335.5,298.2 L336.5,298.4 L337.5,298.6 L338.5,298.8 L339.5,298.8 L340.5,298.9 L341.5,298.9 L342.5,299.0 L343.5,299.2 L344.5,299.2 L345.5,299.4 L346.5,299.5 L347.5,299.5 L348.5,299.4 L349.5,299.2 L350.5,299.0 L351.5,298.6 L352.5,298.2 L353.5,297.8 L354.5,297.5 L355.5,296.9 L356.5,296.4 L357.5,296.0 L358.5,295.6 L359.5,295.4 L360.5,295.2 L361.5,294.8 L362.5,294.5 L363.5,294.0 L364.5,293.7 L365.5,293.4 L366.5,292.9 L367.5,292.4 L368.5,291.9 L369.5,291.4 L370.5,291.0 L371.5,290.5 L372.5,289.9 L373.5,289.4 L374.5,288.9 L375.5,288.3 L376.5,287.7 L377.5,287.1 L378.5,286.5 L379.5,286.0 L380.5,285.5 L381.5,284.9 L382.5,284.3 L383.5,283.7 L384.5,283.0 L385.5,282.3 L386.5,281.6 L387.5,280.7 L388.5,279.8 L389.5,278.8 L390.5,277.8 L391.5,276.4 L392.5,275.1 L393.5,273.9 L394.5,272.9 L395.5,271.6 L396.5,270.2 L397.5,268.8 L398.5,267.7 L399.5,266.5 L400.5,265.2 L401.5,264.0 L402.5,262.7 L403.5,261.5 L404.5,260.3 L405.5,259.2 L406.5,258.0 L407.5,257.1 L408.5,256.2 L409.5,255.6 L410.5,255.0 L411.5,254.4 L412.5,253.8 L413.5,253.0 L414.5,252.3 L415.5,251.7 L416.5,251.1 L417.5,250.4 L418.5,249.6 L419.5,248.7 L420.5,248.0 L421.5,247.4 L422.5,246.6 L423.5,245.9 L424.5,245.3 L425.5,244.6 L426.5,243.9 L427.5,243.3 L428.5,242.8 L429.5,242.2 L430.5,241.9 L431.5,241.6 L432.5,241.5 L433.5,241.4 L434.5,241.2 L435.5,241.0 L436.5,240.9 L437.5,240.8 L438.5,240.7 L439.5,240.8 L440.5,240.9 L441.5,241.1 L442.5,241.3 L443.5,241.7 L444.5,242.2 L445.5,242.8 L446.5,243.4 L447.5,244.1 L448.5,244.9 L449.5,245.7 L450.5,246.4 L451.5,247.2 L452.5,247.8 L453.5,248.6 L454.5,249.2 L455.5,250.0 L456.5,250.8 L457.5,251.5 L458.5,252.0 L459.5,252.7 L460.5,253.5 L461.5,254.2 L462.5,254.8 L463.5,255.3 L464.5,255.6 L465.5,255.8 L466.5,255.9 L467.5,256.0 L468.5,255.9 L469.5,255.8 L470.5,255.6 L471.5,255.6 L472.5,255.8 L473.5,256.0 L474.5,256.2 L475.5,256.4 L476.5,256.6 L477.5,256.9 L478.5,257.2 L479.5,257.8 L480.5,258.2 L481.5,258.6 L482.5,259.1 L483.5,259.5 L484.5,259.7 L485.5,260.1 L486.5,260.3 L487.5,260.4 L488.5,260.5 L489.5,260.5 L490.5,260.4 L491.5,260.3 L492.5,260.1 L493.5,260.1 L494.5,260.0 L495.5,260.0 L496.5,260.0 L497.5,259.8 L498.5,259.6 L499.5,259.4 L500.5,258.9 L501.5,258.4 L502.5,257.8 L503.5,257.2 L504.5,256.5 L505.5,255.7 L506.5,254.8 L507.5,253.8 L508.5,252.7 L509.5,251.8 L510.5,250.9 L511.5,250.0 L512.5,249.1 L513.5,248.2 L514.5,247.4 L515.5,246.6 L516.5,246.0 L517.5,245.4 L518.5,244.9 L519.5,244.4 L520.5,243.7 L521.5,243.4 L522.5,242.7 L523.5,241.9 L524.5,240.9 L525.5,240.0 L526.5,239.1 L527.5,238.2 L528.5,237.5 L529.5,236.6 L530.5,235.8 L531.5,234.7 L532.5,233.6 L533.5,232.4 L534.5,231.2 L535.5,230.1 L536.5,229.0 L537.5,227.9 L538.5,226.7 L539.5,225.4 L540.5,224.0 L541.5,222.6 L542.5,221.5 L543.5,220.2 L544.5,218.7 L545.5,217.5 L546.5,216.3 L547.5,215.1 L548.5,214.1 L549.5,213.2 L550.5,212.3 L551.5,211.2 L552.5,210.2 L553.5,209.2 L554.5,208.0 L555.5,206.7 L556.5,205.2 L557.5,203.8 L558.5,202.0 L559.5,200.2 L560.5,198.5 L561.5,196.6 L562.5,194.9 L563.5,193.3 L564.5,191.7 L565.5,190.1 L566.5,188.8 L567.5,187.5 L568.5,186.3 L569.5,185.2 L570.5,184.0 L571.5,182.8 L572.5,181.8 L573.5,180.6 L574.5,179.5 L575.5,178.3 L576.5,177.1 L577.5,175.7 L578.5,174.5 L579.5,173.3 L580.5,172.1 L581.5,170.5 L582.5,169.1 L583.5,167.9 L584.5,167.1 L585.5,166.1 L586.5,165.2 L587.5,164.2 L588.5,163.0 L589.5,161.8 L590.5,160.3 L591.5,159.0 L592.5,157.8 L593.5,156.6 L594.5,155.2 L595.5,153.8 L596.5,152.5 L597.5,151.1 L598.5,150.0 L599.5,148.7 L600.5,147.3 L601.5,145.9 L602.5,144.4 L603.5,143.1 L604.5,142.0 L605.5,141.0 L606.5,140.1 L607.5,139.4 L608.5,138.9 L609.5,138.1 L610.5,137.4 L611.5,137.2 L612.5,136.6 L613.5,136.3 L614.5,136.2 L615.5,136.3 L616.5,136.7 L617.5,137.1 L618.5,137.8 L619.5,138.4 L620.5,139.1 L621.5,139.6 L622.5,139.9 L623.5,140.2 L624.5,140.4 L625.5,140.7 L626.5,141.0 L627.5,141.3 L628.5,141.5 L629.5,141.7 L630.5,141.9 L631.5,142.3 L632.5,142.5 L633.5,142.7 L634.5,142.9 L635.5,143.2 L636.5,143.5 L637.5,143.9 L638.5,144.2 L639.5,144.5 L640.5,145.2 L641.5,146.2 L642.5,147.4 L643.5,148.5 L644.5,149.9 L645.5,151.4 L646.5,152.9 L647.5,154.5 L648.5,156.2 L649.5,157.8 L650.5,159.7 L651.5,161.4 L652.5,163.2 L653.5,164.9 L654.5,166.6 L655.5,168.4 L656.5,170.0 L657.5,171.5 L658.5,172.8 L659.5,173.8 L660.5,175.0 L661.5,176.4 L662.5,177.7 L663.5,178.8 L664.5,179.8 L665.5,180.6 L666.5,181.3 L667.5,182.0 L668.5,182.5 L669.5,183.0 L670.5,183.6 L671.5,183.7 L672.5,183.8 L673.5,183.8 L674.5,183.7 L675.5,183.4 L676.5,183.0 L677.5,182.7 L678.5,182.6 L679.5,182.4 L680.5,182.5 L681.5,183.0 L682.5,183.8 L683.5,184.5 L684.5,185.2 L685.5,186.0 L686.5,186.7 L687.5,187.5 L688.5,188.2 L689.5,188.9 L690.5,189.6 L691.5,190.3 L692.5,191.0 L693.5,191.8 L694.5,192.5 L695.5,193.1 L696.5,193.8 L697.5,194.4 L698.5,194.9 L699.5,195.4 L700.5,195.8 L701.5,195.7 L702.5,195.7 L703.5,195.8 L704.5,195.8 L705.5,195.8 L706.5,195.9 L707.5,195.8 L708.5,195.8 L709.5,195.9 L710.5,195.8 L711.5,195.9 L712.5,195.9 L713.5,196.0 L714.5,196.0 L715.5,195.8 L716.5,195.8 L717.5,195.9 L718.5,196.3 L719.5,196.9 L720.5,197.7 L721.5,198.3 L722.5,199.1 L723.5,200.0 L724.5,200.8 L725.5,201.5 L726.5,202.0 L727.5,202.5 L728.5,203.2 L729.5,203.9 L730.5,204.7 L731.5,205.6 L732.5,206.7 L733.5,207.8 L734.5,208.9 L735.5,210.3 L736.5,211.6 L737.5,212.8 L738.5,213.8 L739.5,215.1 L740.5,216.2 L741.5,217.3 L742.5,218.3 L743.5,219.1 L744.5,219.8 L745.5,220.4 L746.5,220.8 L747.5,221.1 L748.5,221.6 L749.5,221.9 L750.5,222.3 L751.5,222.6 L752.5,223.0 L753.5,223.4 L754.5,223.9 L755.5,224.4 L756.5,224.8 L757.5,225.2 L758.5,225.7 L759.5,226.3 L760.5,226.8 L761.5,227.5 L762.5,228.3 L763.5,228.8 L764.5,229.3 L765.5,229.7 L766.5,230.1 L767.5,230.3 L768.5,230.3 L769.5,230.2 L770.5,230.4 L771.5,230.5 L772.5,230.7 L773.5,230.9 L774.5,231.4 L775.5,232.1 L776.5,233.0 L777.5,233.8 L778.5,234.3 L779.5,234.9 L780.5,235.2 L781.5,235.8 L782.5,236.2 L783.5,236.7 L784.5,237.3 L785.5,237.9 L786.5,238.9 L787.5,239.7 L788.5,240.5 L789.5,241.4 L790.5,241.9 L791.5,242.6 L792.5,243.3 L793.5,243.9 L794.5,244.5 L795.5,245.1 L796.5,245.6 L797.5,246.0 L798.5,246.6 L799.5,247.0 L800.5,247.5 L801.5,248.0 L802.5,248.5 L803.5,249.2 L804.5,250.0 L805.5,251.0 L806.5,252.1 L807.5,253.3 L808.5,254.4 L809.5,255.5 L810.5,256.7 L811.5,257.9 L812.5,259.0 L813.5,260.3 L814.5,261.5 L815.5,262.5 L816.5,263.5 L817.5,264.5 L818.5,265.3 L819.5,266.2 L820.5,267.3 L821.5,268.3 L822.5,269.3 L823.5,270.4 L824.5,271.6 L825.5,272.8 L826.5,274.1 L827.5,275.5 L828.5,277.2 L829.5,279.1 L830.5,280.8 L831.5,282.5 L832.5,284.2 L833.5,285.8 L834.5,287.2 L835.5,288.6 L836.5,290.0 L837.5,291.4 L838.5,292.8 L839.5,294.1 L840.5,295.3 L841.5,296.3 L842.5,297.3 L843.5,298.3 L844.5,299.2 L845.5,300.2 L846.5,301.1 L847.5,301.7 L848.5,302.1 L849.5,302.4 L850.5,302.9 L851.5,303.4 L852.5,303.9 L853.5,304.4 L854.5,304.9 L855.5,305.3 L856.5,305.9 L857.5,306.5 L858.5,307.0 L859.5,307.8 L860.5,308.3 L861.5,308.8 L862.5,309.3 L863.5,309.6 L864.5,309.9 L865.5,310.1 L866.5,310.1 L867.5,310.2 L868.5,310.3 L869.5,310.5 L870.5,310.7 L871.5,311.1 L872.5,311.7 L873.5,312.2 L874.5,312.8 L875.5,313.5 L876.5,314.4 L877.5,315.4 L878.5,316.5 L879.5,317.7 L880.5,318.7 L881.5,319.6 L882.5,320.7 L883.5,321.6 L884.5,322.4 L885.5,323.2 L886.5,324.0 L887.5,324.7 L888.5,325.4 L889.5,326.1 L890.5,326.8 L891.5,327.5 L892.5,328.2 L893.5,328.9 L894.5,329.7 L895.5,330.4 L896.5,331.1 L897.5,331.7 L898.5,332.5 L899.5,333.4 L900.5,334.3 L901.5,335.2 L902.5,336.2 L903.5,337.0 L904.5,337.9 L905.5,338.7 L906.5,339.5 L907.5,340.4 L908.5,341.5 L909.5,342.8 L910.5,343.8 L911.5,344.9 L912.5,346.0 L913.5,347.0 L914.5,348.2 L915.5,349.5 L916.5,350.6 L917.5,351.8 L918.5,352.8 L919.5,353.7 L920.5,354.8 L921.5,355.7 L922.5,356.6 L923.5,357.6 L924.5,358.6 L925.5,359.5 L926.5,360.4 L927.5,361.4 L928.5,362.4 L929.5,363.2 L930.5,363.9 L931.5,364.4 L932.5,364.8 L933.5,365.2 L934.5,365.6 L935.5,366.2 L936.5,366.8 L937.5,367.3 L938.5,367.7 L939.5,368.1 L940.5,368.6 L941.5,369.2 L942.5,369.7 L943.5,370.3 L944.5,371.0 L945.5,371.7 L946.5,372.4 L947.5,373.4 L948.5,374.5 L949.5,375.2 L950.5,375.6 L951.5,375.9 L952.5,376.2 L953.5,376.2 L954.5,376.3 L955.5,376.4 L956.5,376.4 L957.5,376.4 L958.5,376.5 L959.5,376.5 L960.5,376.6 L961.5,376.7 L962.5,377.0 L963.5,377.3 L964.5,377.6 L965.5,378.1 L966.5,378.7 L967.5,379.3 L968.5,380.0 L969.5,380.6 L970.5,381.4 L971.5,382.1 L972.5,382.8 L973.5,383.5 L974.5,384.3 L975.5,384.9 L976.5,385.6 L977.5,386.5 L978.5,387.3 L979.5,388.0 L980.5,388.6 L981.5,389.2 L982.5,389.7 L983.5,390.1 L984.5,390.7 L985.5,391.4 L986.5,392.1 L987.5,392.8 L988.5,393.6 L989.5,394.5 L990.5,395.3 L991.5,396.2 L992.5,397.0 L993.5,397.8 L994.5,398.5 L995.5,399.0 L996.5,399.5 L997.5,399.9 L998.5,400.4 L999.5,400.7 L1000.5,401.0 L1001.5,401.1 L1002.5,401.1 L1003.5,401.1 L1004.5,401.1 L1005.5,400.9 L1006.5,400.6 L1007.5,400.0 L1008.5,399.3 L1009.5,398.9 L1010.5,398.8 L1011.5,398.8 L1012.5,399.0 L1013.5,399.1 L1014.5,399.2 L1015.5,399.3 L1016.5,399.4 L1017.5,399.5 L1018.5,399.4 L1019.5,399.5 L1020.5,399.5 L1021.5,399.4 L1022.5,399.3 L1023.5,399.3 L1024.5,399.1 L1025.5,398.9 L1026.5,398.5 L1027.5,398.0 L1028.5,397.6 L1029.5,397.2 L1030.5,396.9 L1031.5,396.5 L1032.5,396.2 L1033.5,395.9 L1034.5,395.6 L1035.5,395.3 L1036.5,394.9 L1037.5,394.5 L1038.5,394.1 L1039.5,393.9 L1040.5,393.9 L1041.5,393.9 L1042.5,394.0 L1043.5,394.2 L1044.5,394.3 L1045.5,394.4 L1046.5,394.4 L1047.5,394.3 L1048.5,394.2 L1049.5,394.1 L1050.5,394.1 L1051.5,394.0 L1052.5,393.9 L1053.5,393.8 L1054.5,393.6 L1055.5,393.5 L1056.5,393.4 L1057.5,393.3 L1058.5,393.3 L1059.5,393.2 L1060.5,393.1 L1061.5,393.0 L1062.5,393.0 L1063.5,393.0 L1064.5,393.1 L1065.5,393.1 L1066.5,393.3 L1067.5,393.6 L1068.5,394.0 L1069.5,394.4 L1070.5,394.8 L1071.5,395.1 L1072.5,395.3 L1073.5,395.6 L1074.5,396.0 L1075.5,396.3 L1076.5,396.8 L1077.5,397.4 L1078.5,398.2 L1079.5,398.9" stroke="#2fc1c1"/>
<path d="M5.5,252.0 L6.5,251.2 L7.5,250.6 L8.5,250.3 L9.5,250.2 L10.5,250.6 L11.5,251.5 L12.5,252.5 L13.5,254.0 L14.5,255.5 L15.5,257.3 L16.5,259.0 L17.5,260.3 L18.5,261.8 L19.5,263.2 L20.5,264.6 L21.5,265.5 L22.5,266.3 L23.5,267.1 L24.5,267.9 L25.5,269.1 L26.5,269.9 L27.5,270.8 L28.5,271.5 L29.5,272.3 L30.5,272.7 L31.5,272.5 L32.5,272.5 L33.5,272.0 L34.5,271.7 L35.5,271.1 L36.5,270.8 L37.5,270.9 L38.5,271.0 L39.5,271.3 L40.5,271.7 L41.5,272.5 L42.5,273.4 L43.5,274.4 L44.5,275.7 L45.5,276.7 L46.5,278.0 L47.5,279.4 L48.5,280.6 L49.5,281.7 L50.5,283.0 L51.5,284.1 L52.5,284.9 L53.5,285.9 L54.5,286.6 L55.5,287.4 L56.5,288.3 L57.5,289.1 L58.5,290.2 L59.5,291.3 L60.5,292.5 L61.5,294.0 L62.5,295.6 L63.5,297.1 L64.5,298.1 L65.5,299.5 L66.5,300.6 L67.5,301.5 L68.5,302.5 L69.5,303.4 L70.5,304.1 L71.5,305.5 L72.5,306.5 L73.5,307.2 L74.5,308.3 L75.5,309.5 L76.5,310.4 L77.5,311.0 L78.5,310.8 L79.5,311.0 L80.5,311.0 L81.5,311.0 L82.5,311.3 L83.5,311.8 L84.5,312.5 L85.5,313.1 L86.5,314.0 L87.5,315.3 L88.5,316.6 L89.5,318.0 L90.5,319.4 L91.5,320.1 L92.5,321.5 L93.5,323.2 L94.5,324.6 L95.5,325.6 L96.5,326.8 L97.5,328.7 L98.5,330.7 L99.5,332.4 L100.5,334.2 L101.5,335.5 L102.5,336.7 L103.5,337.4 L104.5,337.8 L105.5,338.1 L106.5,338.1 L107.5,337.8 L108.5,337.6 L109.5,337.2 L110.5,336.9 L111.5,336.9 L112.5,336.7 L113.5,336.1 L114.5,335.6 L115.5,335.4 L116.5,334.8 L117.5,333.7 L118.5,332.8 L119.5,331.7 L120.5,330.3 L121.5,329.3 L122.5,327.9 L123.5,326.9 L124.5,325.8 L125.5,324.8 L126.5,324.1 L127.5,323.6 L128.5,323.1 L129.5,323.0 L130.5,323.1 L131.5,323.3 L132.5,323.8 L133.5,324.7 L134.5,325.6 L135.5,326.5 L136.5,327.8 L137.5,329.5 L138.5,331.3 L139.5,333.3 L140.5,335.1 L141.5,336.7 L142.5,338.5 L143.5,340.1 L144.5,341.7 L145.5,343.1 L146.5,344.0 L147.5,344.7 L148.5,344.7 L149.5,344.5 L150.5,344.3 L151.5,343.9 L152.5,343.2 L153.5,342.2 L154.5,341.0 L155.5,339.7 L156.5,338.1 L157.5,336.5 L158.5,334.5 L159.5,332.2 L160.5,329.9 L161.5,327.6 L162.5,325.4 L163.5,322.7 L164.5,320.3 L165.5,318.4 L166.5,316.4 L167.5,314.5 L168.5,313.5 L169.5,312.6 L170.5,311.8 L171.5,310.5 L172.5,309.4 L173.5,308.4 L174.5,307.3 L175.5,306.3 L176.5,304.8 L177.5,303.4 L178.5,301.8 L179.5,300.7 L180.5,299.4 L181.5,298.1 L182.5,297.1 L183.5,296.3 L184.5,295.2 L185.5,294.2 L186.5,293.5 L187.5,292.8 L188.5,292.3 L189.5,291.7 L190.5,290.7 L191.5,290.5 L192.5,289.7 L193.5,289.2 L194.5,288.5 L195.5,287.8 L196.5,287.9 L197.5,287.7 L198.5,288.0 L199.5,287.9 L200.5,288.0 L201.5,288.3 L202.5,288.3 L203.5,288.5 L204.5,288.5 L205.5,288.7 L206.5,288.8 L207.5,288.9 L208.5,288.3 L209.5,287.6 L210.5,287.0 L211.5,286.2 L212.5,286.0 L213.5,285.2 L214.5,285.0 L215.5,284.7 L216.5,284.2 L217.5,283.3 L218.5,282.8 L219.5,282.5 L220.5,282.2 L221.5,281.6 L222.5,281.2 L223.5,281.0 L224.5,280.6 L225.5,279.9 L226.5,279.3 L227.5,278.8 L228.5,278.7 L229.5,278.6 L230.5,279.1 L231.5,279.6 L232.5,280.1 L233.5,281.4 L234.5,282.3 L235.5,283.0 L236.5,284.2 L237.5,285.7 L238.5,287.2 L239.5,289.0 L240.5,290.9 L241.5,292.9 L242.5,295.1 L243.5,297.4 L244.5,300.2 L245.5,302.9 L246.5,305.7 L247.5,308.4 L248.5,311.1 L249.5,313.4 L250.5,315.2 L251.5,316.5 L252.5,317.4 L253.5,317.8 L254.5,318.5 L255.5,319.1 L256.5,319.4 L257.5,319.7 L258.5,319.4 L259.5,318.8 L260.5,318.3 L261.5,317.9 L262.5,317.0 L263.5,316.0 L264.5,314.8 L265.5,313.4 L266.5,311.5 L267.5,309.3 L268.5,307.5 L269.5,305.9 L270.5,304.5 L271.5,303.9 L272.5,303.5 L273.5,303.1 L274.5,302.5 L275.5,302.1 L276.5,301.4 L277.5,300.6 L278.5,299.9 L279.5,299.5 L280.5,298.9 L281.5,297.9 L282.5,297.1 L283.5,296.2 L284.5,295.5 L285.5,295.1 L286.5,295.3 L287.5,295.3 L288.5,295.3 L289.5,295.7 L290.5,296.0 L291.5,296.4 L292.5,296.8 L293.5,297.2 L294.5,297.6 L295.5,298.1 L296.5,298.8 L297.5,299.7 L298.5,300.3 L299.5,300.4 L300.5,300.4 L301.5,300.8 L302.5,301.3 L303.5,302.0 L304.5,302.2 L305.5,302.8 L306.5,303.3 L307.5,303.9 L308.5,304.2 L309.5,304.5 L310.5,304.2 L311.5,303.5 L312.5,302.8 L313.5,301.8 L314.5,301.0 L315.5,300.2 L316.5,299.5 L317.5,298.6 L318.5,298.1 L319.5,297.4 L320.5,297.1 L321.5,296.6 L322.5,296.0 L323.5,295.3 L324.5,295.0 L325.5,294.2 L326.5,293.4 L327.5,293.2 L328.5,293.0 L329.5,292.6 L330.5,293.0 L331.5,293.9 L332.5,294.5 L333.5,295.4 L334.5,295.7 L335.5,296.1 L336.5,296.8 L337.5,297.6 L338.5,298.1 L339.5,298.6 L340.5,299.1 L341.5,299.2 L342.5,299.6 L343.5,300.2 L344.5,300.6 L345.5,301.2 L346.5,301.7 L347.5,301.4 L348.5,300.9 L349.5,300.5 L350.5,299.9 L351.5,298.6 L352.5,297.2 L353.5,296.2 L354.5,295.7 L355.5,294.4 L356.5,292.9 L357.5,291.7 L358.5,290.7 L359.5,290.1 L360.5,289.3 L361.5,288.7 L362.5,287.8 L363.5,286.5 L364.5,285.6 L365.5,284.6 L366.5,283.6 L367.5,282.7 L368.5,281.9 L369.5,281.0 L370.5,280.0 L371.5,279.0 L372.5,278.0 L373.5,276.5 L374.5,275.3 L375.5,274.4 L376.5,273.5 L377.5,272.1 L378.5,270.8 L379.5,269.4 L380.5,268.1 L381.5,266.9 L382.5,265.6 L383.5,264.4 L384.5,262.8 L385.5,261.1 L386.5,259.6 L387.5,258.1 L388.5,256.5 L389.5,255.0 L390.5,253.4 L391.5,251.6 L392.5,250.2 L393.5,248.8 L394.5,247.6 L395.5,246.1 L396.5,244.3 L397.5,242.7 L398.5,241.5 L399.5,240.1 L400.5,238.3 L401.5,236.5 L402.5,234.9 L403.5,233.6 L404.5,232.6 L405.5,231.8 L406.5,230.9 L407.5,230.3 L408.5,230.3 L409.5,230.7 L410.5,231.6 L411.5,232.7 L412.5,233.1 L413.5,233.7 L414.5,234.1 L415.5,234.6 L416.5,235.6 L417.5,236.3 L418.5,236.5 L419.5,236.7 L420.5,237.8 L421.5,238.8 L422.5,239.4 L423.5,239.7 L424.5,240.6 L425.5,240.8 L426.5,241.1 L427.5,241.5 L428.5,241.6 L429.5,241.1 L430.5,240.7 L431.5,240.6 L432.5,241.1 L433.5,241.6 L434.5,241.7 L435.5,242.2 L436.5,242.6 L437.5,243.3 L438.5,244.2 L439.5,245.5 L440.5,246.7 L441.5,247.9 L442.5,249.7 L443.5,251.9 L444.5,253.6 L445.5,255.9 L446.5,258.1 L447.5,260.5 L448.5,262.9 L449.5,265.3 L450.5,267.0 L451.5,268.3 L452.5,269.2 L453.5,270.5 L454.5,271.9 L455.5,273.1 L456.5,274.1 L457.5,274.9 L458.5,275.3 L459.5,275.8 L460.5,276.1 L461.5,275.8 L462.5,275.3 L463.5,274.3 L464.5,272.8 L465.5,270.7 L466.5,268.5 L467.5,266.0 L468.5,263.3 L469.5,261.0 L470.5,259.3 L471.5,257.9 L472.5,257.0 L473.5,256.0 L474.5,255.1 L475.5,253.9 L476.5,253.2 L477.5,252.5 L478.5,252.2 L479.5,251.9 L480.5,251.7 L481.5,252.2 L482.5,252.3 L483.5,252.2 L484.5,252.9 L485.5,253.7 L486.5,254.3 L487.5,254.8 L488.5,255.2 L489.5,255.3 L490.5,255.0 L491.5,254.7 L492.5,254.2 L493.5,253.8 L494.5,253.2 L495.5,252.9 L496.5,252.6 L497.5,252.0 L498.5,251.3 L499.5,250.3 L500.5,248.7 L501.5,247.2 L502.5,245.9 L503.5,244.9 L504.5,243.8 L505.5,242.7 L506.5,241.5 L507.5,240.4 L508.5,239.7 L509.5,239.0 L510.5,238.4 L511.5,237.4 L512.5,236.2 L513.5,234.9 L514.5,233.9 L515.5,232.9 L516.5,232.1 L517.5,231.7 L518.5,231.3 L519.5,230.9 L520.5,230.6 L521.5,230.8 L522.5,229.9 L523.5,228.5 L524.5,225.9 L525.5,223.7 L526.5,221.4 L527.5,219.5 L528.5,217.6 L529.5,215.6 L530.5,213.9 L531.5,212.0 L532.5,210.3 L533.5,208.4 L534.5,206.5 L535.5,204.6 L536.5,202.3 L537.5,200.0 L538.5,197.4 L539.5,195.1 L540.5,192.7 L541.5,189.9 L542.5,188.5 L543.5,187.0 L544.5,186.5 L545.5,186.0 L546.5,186.0 L547.5,185.5 L548.5,185.2 L549.5,184.9 L550.5,184.4 L551.5,184.1 L552.5,184.2 L553.5,184.2 L554.5,183.6 L555.5,182.7 L556.5,181.2 L557.5,179.5 L558.5,177.2 L559.5,174.6 L560.5,172.0 L561.5,169.2 L562.5,166.3 L563.5,164.4 L564.5,162.7 L565.5,160.6 L566.5,159.1 L567.5,157.7 L568.5,156.3 L569.5,155.1 L570.5,153.7 L571.5,152.2 L572.5,150.8 L573.5,149.2 L574.5,148.4 L575.5,147.6 L576.5,147.6 L577.5,147.5 L578.5,148.9 L579.5,150.3 L580.5,151.5 L581.5,152.3 L582.5,152.4 L583.5,152.3 L584.5,152.0 L585.5,151.6 L586.5,150.6 L587.5,149.5 L588.5,147.6 L589.5,145.4 L590.5,142.8 L591.5,140.8 L592.5,138.4 L593.5,136.3 L594.5,133.8 L595.5,131.2 L596.5,128.6 L597.5,126.3 L598.5,123.8 L599.5,121.1 L600.5,118.5 L601.5,116.2 L602.5,114.5 L603.5,112.6 L604.5,111.3 L605.5,110.6 L606.5,110.6 L607.5,111.1 L608.5,112.7 L609.5,113.8 L610.5,115.7 L611.5,118.5 L612.5,120.7 L613.5,123.3 L614.5,126.5 L615.5,130.1 L616.5,133.7 L617.5,137.6 L618.5,140.8 L619.5,143.9 L620.5,147.3 L621.5,150.2 L622.5,152.7 L623.5,155.5 L624.5,158.0 L625.5,160.0 L626.5,161.9 L627.5,163.2 L628.5,164.2 L629.5,165.8 L630.5,167.2 L631.5,167.6 L632.5,168.4 L633.5,168.4 L634.5,168.4 L635.5,168.4 L636.5,168.0 L637.5,167.8 L638.5,168.1 L639.5,168.6 L640.5,169.7 L641.5,172.2 L642.5,174.8 L643.5,177.5 L644.5,180.4 L645.5,183.7 L646.5,186.3 L647.5,189.2 L648.5,191.6 L649.5,193.9 L650.5,196.1 L651.5,198.0 L652.5,200.4 L653.5,203.0 L654.5,204.8 L655.5,206.7 L656.5,208.1 L657.5,209.2 L658.5,209.4 L659.5,209.1 L660.5,208.2 L661.5,206.9 L662.5,205.4 L663.5,203.4 L664.5,201.0 L665.5,198.2 L666.5,195.9 L667.5,193.7 L668.5,191.6 L669.5,189.3 L670.5,187.5 L671.5,185.4 L672.5,182.6 L673.5,179.9 L674.5,177.8 L675.5,175.1 L676.5,172.8 L677.5,171.2 L678.5,170.2 L679.5,169.6 L680.5,169.7 L681.5,169.9 L682.5,171.1 L683.5,172.6 L684.5,174.3 L685.5,176.1 L686.5,177.9 L687.5,179.7 L688.5,181.5 L689.5,183.6 L690.5,185.2 L691.5,187.4 L692.5,190.0 L693.5,192.6 L694.5,194.8 L695.5,197.5 L696.5,200.4 L697.5,202.7 L698.5,205.2 L699.5,207.6 L700.5,209.4 L701.5,210.4 L702.5,210.6 L703.5,211.3 L704.5,212.2 L705.5,213.1 L706.5,213.8 L707.5,214.1 L708.5,214.4 L709.5,214.6 L710.5,214.7 L711.5,214.8 L712.5,215.1 L713.5,215.4 L714.5,215.4 L715.5,214.9 L716.5,214.1 L717.5,213.8 L718.5,213.6 L719.5,213.4 L720.5,214.0 L721.5,214.7 L722.5,215.6 L723.5,215.9 L724.5,216.0 L725.5,215.4 L726.5,214.2 L727.5,213.7 L728.5,213.7 L729.5,213.5 L730.5,214.2 L731.5,214.6 L732.5,214.9 L733.5,215.3 L734.5,216.4 L735.5,218.4 L736.5,220.2 L737.5,221.9 L738.5,222.6 L739.5,224.3 L740.5,225.3 L741.5,226.8 L742.5,228.5 L743.5,229.9 L744.5,231.0 L745.5,232.6 L746.5,234.4 L747.5,235.6 L748.5,236.7 L749.5,237.5 L750.5,237.9 L751.5,238.4 L752.5,239.1 L753.5,239.6 L754.5,239.8 L755.5,239.8 L756.5,240.1 L757.5,240.0 L758.5,240.9 L759.5,241.1 L760.5,241.0 L761.5,241.0 L762.5,240.8 L763.5,240.5 L764.5,240.8 L765.5,241.1 L766.5,241.5 L767.5,241.4 L768.5,240.5 L769.5,239.5 L770.5,239.0 L771.5,238.5 L772.5,238.0 L773.5,237.8 L774.5,237.9 L775.5,238.2 L776.5,238.6 L777.5,239.4 L778.5,239.3 L779.5,239.2 L780.5,239.4 L781.5,239.5 L782.5,239.5 L783.5,239.8 L784.5,240.0 L785.5,240.2 L786.5,240.6 L787.5,242.2 L788.5,244.4 L789.5,247.0 L790.5,248.9 L791.5,250.9 L792.5,252.8 L793.5,254.4 L794.5,255.9 L795.5,257.2 L796.5,258.0 L797.5,258.5 L798.5,259.7 L799.5,260.8 L800.5,262.1 L801.5,263.5 L802.5,265.3 L803.5,267.4 L804.5,269.2 L805.5,271.9 L806.5,274.2 L807.5,276.2 L808.5,278.2 L809.5,279.9 L810.5,282.1 L811.5,284.2 L812.5,286.3 L813.5,288.6 L814.5,290.7 L815.5,292.1 L816.5,293.8 L817.5,295.6 L818.5,297.0 L819.5,298.5 L820.5,300.2 L821.5,301.9 L822.5,303.1 L823.5,304.2 L824.5,305.4 L825.5,306.4 L826.5,307.3 L827.5,308.3 L828.5,309.2 L829.5,310.3 L830.5,311.5 L831.5,312.5 L832.5,313.4 L833.5,314.3 L834.5,315.1 L835.5,316.6 L836.5,318.3 L837.5,320.2 L838.5,321.8 L839.5,323.1 L840.5,323.4 L841.5,323.4 L842.5,323.6 L843.5,323.4 L844.5,323.0 L845.5,322.4 L846.5,321.7 L847.5,320.5 L848.5,319.0 L849.5,316.8 L850.5,315.1 L851.5,313.4 L852.5,311.9 L853.5,310.4 L854.5,308.8 L855.5,307.3 L856.5,305.6 L857.5,303.6 L858.5,302.3 L859.5,301.7 L860.5,301.2 L861.5,301.1 L862.5,301.1 L863.5,301.3 L864.5,301.3 L865.5,301.4 L866.5,301.3 L867.5,301.9 L868.5,302.6 L869.5,304.3 L870.5,305.5 L871.5,307.3 L872.5,309.7 L873.5,311.9 L874.5,314.4 L875.5,316.7 L876.5,319.3 L877.5,322.4 L878.5,325.5 L879.5,328.3 L880.5,331.6 L881.5,334.4 L882.5,337.3 L883.5,340.1 L884.5,342.9 L885.5,345.8 L886.5,348.8 L887.5,351.7 L888.5,354.6 L889.5,357.2 L890.5,359.7 L891.5,361.8 L892.5,363.1 L893.5,364.4 L894.5,365.8 L895.5,367.1 L896.5,368.3 L897.5,369.2 L898.5,369.7 L899.5,370.0 L900.5,370.3 L901.5,370.2 L902.5,370.0 L903.5,369.6 L904.5,369.5 L905.5,368.9 L906.5,368.3 L907.5,367.7 L908.5,367.3 L909.5,367.0 L910.5,366.2 L911.5,365.5 L912.5,365.2 L913.5,364.8 L914.5,364.4 L915.5,364.6 L916.5,364.3 L917.5,363.7 L918.5,363.4 L919.5,362.8 L920.5,362.5 L921.5,362.4 L922.5,362.6 L923.5,363.1 L924.5,363.4 L925.5,363.8 L926.5,364.1 L927.5,364.8 L928.5,365.3 L929.5,365.3 L930.5,365.7 L931.5,366.0 L932.5,366.3 L933.5,366.4 L934.5,366.7 L935.5,366.9 L936.5,367.7 L937.5,369.0 L938.5,370.0 L939.5,371.6 L940.5,373.0 L941.5,374.8 L942.5,376.5 L943.5,378.1 L944.5,379.9 L945.5,382.2 L946.5,384.7 L947.5,387.8 L948.5,391.0 L949.5,393.3 L950.5,394.9 L951.5,396.3 L952.5,397.1 L953.5,397.6 L954.5,397.9 L955.5,397.8 L956.5,397.4 L957.5,396.6 L958.5,396.1 L959.5,395.2 L960.5,394.2 L961.5,392.9 L962.5,391.9 L963.5,390.8 L964.5,389.4 L965.5,388.3 L966.5,387.2 L967.5,385.5 L968.5,383.7 L969.5,383.2 L970.5,383.5 L971.5,384.0 L972.5,385.1 L973.5,386.7 L974.5,388.2 L975.5,389.8 L976.5,391.9 L977.5,393.9 L978.5,395.7 L979.5,397.2 L980.5,398.5 L981.5,399.7 L982.5,400.8 L983.5,401.6 L984.5,402.7 L985.5,403.6 L986.5,404.3 L987.5,405.1 L988.5,406.1 L989.5,406.9 L990.5,407.6 L991.5,408.3 L992.5,408.7 L993.5,409.0 L994.5,409.3 L995.5,409.4 L996.5,409.4 L997.5,409.3 L998.5,409.3 L999.5,409.8 L1000.5,410.2 L1001.5,410.5 L1002.5,410.8 L1003.5,411.1 L1004.5,411.1 L1005.5,410.9 L1006.5,410.4 L1007.5,409.5 L1008.5,408.1 L1009.5,406.7 L1010.5,405.2 L1011.5,404.1 L1012.5,403.1 L1013.5,401.7 L1014.5,400.3 L1015.5,398.8 L1016.5,397.0 L1017.5,395.3 L1018.5,393.2 L1019.5,391.4 L1020.5,389.7 L1021.5,388.1 L1022.5,386.5 L1023.5,385.1 L1024.5,383.6 L1025.5,382.1 L1026.5,380.8 L1027.5,379.4 L1028.5,378.6 L1029.5,378.0 L1030.5,377.7 L1031.5,377.2 L1032.5,376.7 L1033.5,377.0 L1034.5,377.3 L1035.5,377.7 L1036.5,378.3 L1037.5,378.9 L1038.5,379.7 L1039.5,380.6 L1040.5,381.8 L1041.5,383.2 L1042.5,384.9 L1043.5,386.5 L1044.5,388.2 L1045.5,390.1 L1046.5,392.0 L1047.5,394.1 L1048.5,395.9 L1049.5,397.7 L1050.5,399.4 L1051.5,400.7 L1052.5,401.8 L1053.5,402.6 L1054.5,403.3 L1055.5,404.2 L1056.5,404.9 L1057.5,405.8 L1058.5,406.9 L1059.5,407.5 L1060.5,407.8 L1061.5,407.8 L1062.5,407.6 L1063.5,407.5 L1064.5,407.4 L1065.5,407.2 L1066.5,407.1 L1067.5,407.3 L1068.5,407.4 L1069.5,407.3 L1070.5,407.2 L1071.5,407.3 L1072.5,407.4 L1073.5,407.3 L1074.5,407.4 L1075.5,407.2 L1076.5,407.2 L1077.5,407.6 L1078.5,407.9 L1079.5,408.6" stroke="#ff3ec8"/>
<path d="M5.5,249.2 L6.5,249.7 L7.5,250.1 L8.5,250.7 L9.5,251.2 L10.5,252.2 L11.5,254.1 L12.5,256.3 L13.5,258.9 L14.5,261.8 L15.5,265.4 L16.5,268.3 L17.5,270.4 L18.5,272.8 L19.5,275.3 L20.5,277.0 L21.5,277.0 L22.5,276.3 L23.5,275.2 L24.5,274.1 L25.5,272.8 L26.5,271.6 L27.5,271.3 L28.5,270.2 L29.5,269.2 L30.5,268.5 L31.5,268.1 L32.5,268.6 L33.5,268.8 L34.5,269.4 L35.5,269.5 L36.5,270.0 L37.5,270.6 L38.5,271.8 L39.5,273.4 L40.5,275.0 L41.5,277.0 L42.5,278.2 L43.5,280.0 L44.5,282.0 L45.5,283.9 L46.5,286.0 L47.5,288.2 L48.5,289.3 L49.5,290.1 L50.5,291.1 L51.5,291.2 L52.5,291.6 L53.5,291.8 L54.5,291.1 L55.5,290.9 L56.5,290.7 L57.5,290.0 L58.5,291.0 L59.5,292.4 L60.5,294.0 L61.5,296.9 L62.5,299.6 L63.5,302.3 L64.5,305.1 L65.5,308.2 L66.5,310.6 L67.5,312.9 L68.5,314.0 L69.5,314.4 L70.5,314.3 L71.5,314.2 L72.5,313.3 L73.5,312.2 L74.5,311.6 L75.5,310.8 L76.5,310.2 L77.5,309.0 L78.5,307.7 L79.5,307.6 L80.5,307.8 L81.5,307.7 L82.5,309.3 L83.5,311.5 L84.5,313.5 L85.5,315.3 L86.5,317.7 L87.5,321.5 L88.5,325.6 L89.5,328.4 L90.5,330.9 L91.5,332.6 L92.5,333.8 L93.5,334.8 L94.5,335.7 L95.5,335.9 L96.5,336.0 L97.5,336.0 L98.5,335.9 L99.5,336.3 L100.5,337.4 L101.5,338.5 L102.5,339.5 L103.5,339.9 L104.5,339.9 L105.5,340.2 L106.5,340.3 L107.5,339.5 L108.5,339.3 L109.5,338.1 L110.5,336.3 L111.5,335.4 L112.5,333.9 L113.5,332.2 L114.5,331.3 L115.5,330.6 L116.5,329.4 L117.5,327.9 L118.5,326.4 L119.5,325.3 L120.5,324.2 L121.5,323.3 L122.5,321.9 L123.5,321.5 L124.5,320.3 L125.5,319.1 L126.5,318.8 L127.5,319.4 L128.5,319.9 L129.5,320.7 L130.5,322.0 L131.5,323.3 L132.5,325.7 L133.5,327.9 L134.5,330.8 L135.5,333.9 L136.5,336.8 L137.5,339.7 L138.5,342.8 L139.5,345.8 L140.5,348.3 L141.5,350.1 L142.5,351.3 L143.5,352.2 L144.5,352.7 L145.5,352.2 L146.5,351.2 L147.5,349.7 L148.5,346.6 L149.5,343.2 L150.5,340.3 L151.5,337.7 L152.5,335.1 L153.5,332.1 L154.5,329.4 L155.5,327.2 L156.5,324.9 L157.5,323.3 L158.5,322.5 L159.5,321.2 L160.5,319.5 L161.5,317.6 L162.5,315.8 L163.5,313.4 L164.5,311.2 L165.5,309.6 L166.5,307.8 L167.5,305.7 L168.5,304.6 L169.5,304.1 L170.5,304.1 L171.5,303.4 L172.5,303.0 L173.5,303.3 L174.5,303.4 L175.5,303.0 L176.5,301.8 L177.5,301.1 L178.5,299.1 L179.5,297.4 L180.5,294.6 L181.5,292.9 L182.5,291.2 L183.5,289.3 L184.5,287.1 L185.5,285.4 L186.5,285.2 L187.5,284.6 L188.5,285.5 L189.5,286.0 L190.5,286.7 L191.5,288.1 L192.5,288.2 L193.5,289.1 L194.5,289.9 L195.5,290.2 L196.5,290.6 L197.5,290.8 L198.5,290.6 L199.5,289.8 L200.5,289.3 L201.5,288.6 L202.5,288.5 L203.5,287.8 L204.5,287.2 L205.5,287.3 L206.5,287.1 L207.5,287.0 L208.5,286.0 L209.5,285.5 L210.5,284.7 L211.5,283.7 L212.5,283.5 L213.5,282.7 L214.5,282.8 L215.5,282.2 L216.5,281.3 L217.5,279.6 L218.5,279.6 L219.5,279.5 L220.5,279.6 L221.5,279.5 L222.5,278.9 L223.5,279.4 L224.5,278.4 L225.5,277.6 L226.5,277.3 L227.5,278.0 L228.5,277.7 L229.5,277.7 L230.5,278.6 L231.5,279.7 L232.5,281.3 L233.5,283.4 L234.5,286.3 L235.5,288.4 L236.5,291.1 L237.5,293.4 L238.5,296.7 L239.5,300.4 L240.5,303.1 L241.5,306.0 L242.5,309.0 L243.5,311.3 L244.5,314.2 L245.5,317.4 L246.5,320.2 L247.5,323.4 L248.5,325.5 L249.5,326.4 L250.5,327.3 L251.5,326.9 L252.5,325.8 L253.5,324.2 L254.5,322.8 L255.5,320.9 L256.5,318.6 L257.5,316.0 L258.5,313.3 L259.5,311.3 L260.5,309.4 L261.5,308.8 L262.5,308.1 L263.5,307.7 L264.5,306.8 L265.5,305.9 L266.5,304.3 L267.5,302.6 L268.5,301.7 L269.5,300.6 L270.5,299.6 L271.5,298.9 L272.5,298.9 L273.5,298.6 L274.5,298.3 L275.5,298.3 L276.5,298.5 L277.5,298.5 L278.5,298.0 L279.5,298.4 L280.5,298.1 L281.5,297.0 L282.5,295.4 L283.5,293.9 L284.5,292.8 L285.5,291.8 L286.5,292.0 L287.5,292.0 L288.5,292.6 L289.5,293.0 L290.5,293.8 L291.5,295.8 L292.5,298.1 L293.5,300.5 L294.5,302.4 L295.5,304.4 L296.5,305.6 L297.5,307.3 L298.5,307.9 L299.5,307.8 L300.5,307.1 L301.5,305.9 L302.5,304.6 L303.5,303.5 L304.5,302.0 L305.5,301.1 L306.5,301.0 L307.5,300.6 L308.5,300.5 L309.5,301.2 L310.5,301.3 L311.5,301.0 L312.5,301.0 L313.5,300.1 L314.5,300.0 L315.5,299.4 L316.5,297.9 L317.5,296.7 L318.5,295.7 L319.5,293.7 L320.5,292.9 L321.5,292.1 L322.5,291.1 L323.5,290.5 L324.5,290.0 L325.5,289.0 L326.5,289.0 L327.5,289.6 L328.5,290.3 L329.5,291.6 L330.5,293.0 L331.5,295.6 L332.5,297.9 L333.5,300.3 L334.5,301.5 L335.5,303.2 L336.5,304.7 L337.5,305.6 L338.5,305.8 L339.5,305.6 L340.5,305.2 L341.5,302.8 L342.5,301.4 L343.5,300.2 L344.5,299.7 L345.5,299.2 L346.5,298.8 L347.5,297.2 L348.5,295.9 L349.5,295.3 L350.5,294.7 L351.5,294.4 L352.5,293.0 L353.5,292.3 L354.5,291.7 L355.5,289.6 L356.5,287.0 L357.5,286.2 L358.5,285.5 L359.5,284.9 L360.5,284.0 L361.5,282.9 L362.5,282.5 L363.5,280.8 L364.5,279.6 L365.5,279.7 L366.5,280.1 L367.5,279.3 L368.5,278.4 L369.5,277.1 L370.5,276.0 L371.5,275.1 L372.5,273.5 L373.5,272.3 L374.5,271.0 L375.5,269.1 L376.5,266.8 L377.5,265.0 L378.5,263.3 L379.5,261.6 L380.5,260.2 L381.5,258.8 L382.5,257.7 L383.5,256.6 L384.5,254.6 L385.5,253.2 L386.5,252.3 L387.5,251.2 L388.5,249.7 L389.5,248.4 L390.5,246.5 L391.5,244.3 L392.5,242.7 L393.5,241.1 L394.5,240.5 L395.5,239.0 L396.5,236.3 L397.5,234.1 L398.5,233.3 L399.5,231.7 L400.5,230.0 L401.5,228.6 L402.5,227.0 L403.5,226.0 L404.5,224.7 L405.5,224.6 L406.5,225.5 L407.5,226.5 L408.5,227.2 L409.5,229.6 L410.5,233.2 L411.5,236.8 L412.5,239.3 L413.5,241.4 L414.5,243.6 L415.5,244.6 L416.5,245.7 L417.5,246.2 L418.5,245.7 L419.5,243.8 L420.5,242.4 L421.5,240.8 L422.5,239.5 L423.5,238.0 L424.5,237.5 L425.5,236.9 L426.5,236.6 L427.5,236.9 L428.5,237.4 L429.5,238.3 L430.5,239.0 L431.5,240.4 L432.5,242.8 L433.5,245.1 L434.5,246.0 L435.5,247.6 L436.5,248.7 L437.5,249.7 L438.5,251.0 L439.5,252.7 L440.5,254.4 L441.5,255.4 L442.5,256.7 L443.5,258.7 L444.5,261.2 L445.5,264.2 L446.5,267.5 L447.5,271.2 L448.5,274.8 L449.5,277.8 L450.5,279.6 L451.5,281.2 L452.5,281.7 L453.5,282.3 L454.5,282.5 L455.5,282.0 L456.5,280.7 L457.5,278.6 L458.5,275.8 L459.5,273.9 L460.5,272.7 L461.5,270.5 L462.5,268.8 L463.5,266.3 L464.5,263.1 L465.5,259.4 L466.5,256.4 L467.5,253.5 L468.5,250.8 L469.5,248.2 L470.5,245.9 L471.5,245.3 L472.5,245.2 L473.5,245.6 L474.5,247.2 L475.5,248.5 L476.5,250.0 L477.5,251.5 L478.5,253.7 L479.5,255.7 L480.5,257.6 L481.5,259.0 L482.5,259.3 L483.5,258.9 L484.5,258.6 L485.5,258.8 L486.5,258.6 L487.5,258.1 L488.5,256.8 L489.5,255.0 L490.5,252.5 L491.5,250.3 L492.5,249.1 L493.5,248.7 L494.5,247.7 L495.5,246.9 L496.5,246.6 L497.5,245.9 L498.5,245.9 L499.5,245.7 L500.5,245.0 L501.5,244.0 L502.5,242.7 L503.5,241.1 L504.5,239.9 L505.5,238.5 L506.5,236.3 L507.5,235.0 L508.5,233.5 L509.5,232.3 L510.5,231.8 L511.5,230.9 L512.5,229.7 L513.5,228.7 L514.5,227.9 L515.5,227.4 L516.5,227.9 L517.5,228.5 L518.5,229.1 L519.5,229.4 L520.5,229.4 L521.5,230.6 L522.5,230.2 L523.5,228.3 L524.5,223.8 L525.5,220.1 L526.5,214.9 L527.5,210.4 L528.5,206.1 L529.5,201.7 L530.5,198.4 L531.5,193.4 L532.5,190.5 L533.5,188.5 L534.5,189.2 L535.5,189.1 L536.5,189.7 L537.5,189.7 L538.5,188.7 L539.5,188.5 L540.5,187.0 L541.5,186.4 L542.5,186.5 L543.5,185.5 L544.5,183.8 L545.5,183.0 L546.5,182.3 L547.5,181.2 L548.5,181.6 L549.5,181.3 L550.5,181.9 L551.5,181.7 L552.5,181.8 L553.5,182.9 L554.5,183.3 L555.5,182.5 L556.5,180.2 L557.5,177.8 L558.5,172.8 L559.5,167.9 L560.5,162.2 L561.5,156.7 L562.5,150.7 L563.5,145.9 L564.5,142.1 L565.5,138.8 L566.5,138.0 L567.5,137.7 L568.5,139.8 L569.5,142.2 L570.5,145.2 L571.5,147.8 L572.5,150.9 L573.5,152.6 L574.5,154.6 L575.5,156.3 L576.5,157.3 L577.5,157.2 L578.5,158.0 L579.5,158.4 L580.5,157.8 L581.5,156.8 L582.5,153.9 L583.5,152.1 L584.5,149.3 L585.5,146.9 L586.5,143.9 L587.5,141.7 L588.5,137.2 L589.5,132.5 L590.5,127.8 L591.5,124.7 L592.5,122.9 L593.5,120.5 L594.5,118.2 L595.5,115.5 L596.5,113.3 L597.5,110.9 L598.5,110.5 L599.5,109.7 L600.5,109.2 L601.5,107.7 L602.5,106.1 L603.5,104.7 L604.5,104.4 L605.5,105.8 L606.5,108.0 L607.5,111.3 L608.5,114.9 L609.5,118.0 L610.5,122.3 L611.5,129.3 L612.5,135.3 L613.5,141.9 L614.5,148.6 L615.5,154.4 L616.5,159.5 L617.5,163.8 L618.5,166.7 L619.5,169.8 L620.5,172.4 L621.5,171.0 L622.5,170.2 L623.5,169.1 L624.5,167.4 L625.5,165.5 L626.5,164.2 L627.5,162.6 L628.5,161.8 L629.5,161.9 L630.5,162.1 L631.5,164.2 L632.5,166.6 L633.5,167.7 L634.5,169.3 L635.5,171.2 L636.5,171.8 L637.5,172.9 L638.5,174.3 L639.5,175.2 L640.5,177.2 L641.5,180.1 L642.5,183.1 L643.5,187.3 L644.5,191.5 L645.5,196.1 L646.5,200.8 L647.5,205.5 L648.5,208.9 L649.5,212.5 L650.5,215.1 L651.5,215.8 L652.5,217.7 L653.5,218.8 L654.5,218.1 L655.5,217.2 L656.5,215.5 L657.5,212.9 L658.5,210.0 L659.5,205.7 L660.5,201.3 L661.5,198.0 L662.5,193.1 L663.5,188.0 L664.5,183.9 L665.5,179.3 L666.5,176.2 L667.5,174.5 L668.5,173.2 L669.5,173.0 L670.5,173.6 L671.5,172.8 L672.5,172.0 L673.5,171.8 L674.5,171.8 L675.5,170.9 L676.5,169.3 L677.5,167.8 L678.5,167.1 L679.5,166.2 L680.5,165.7 L681.5,167.1 L682.5,170.3 L683.5,173.4 L684.5,176.8 L685.5,181.2 L686.5,186.6 L687.5,191.6 L688.5,195.9 L689.5,201.1 L690.5,204.8 L691.5,207.8 L692.5,209.8 L693.5,211.8 L694.5,212.8 L695.5,213.8 L696.5,214.3 L697.5,213.9 L698.5,214.6 L699.5,214.1 L700.5,214.0 L701.5,212.9 L702.5,211.5 L703.5,210.9 L704.5,211.7 L705.5,212.4 L706.5,213.3 L707.5,214.2 L708.5,214.2 L709.5,215.1 L710.5,215.4 L711.5,216.7 L712.5,218.6 L713.5,219.9 L714.5,219.2 L715.5,217.3 L716.5,214.9 L717.5,213.3 L718.5,213.0 L719.5,211.7 L720.5,212.6 L721.5,212.6 L722.5,212.7 L723.5,212.0 L724.5,212.8 L725.5,213.6 L726.5,213.6 L727.5,214.1 L728.5,214.4 L729.5,215.3 L730.5,215.9 L731.5,216.6 L732.5,217.2 L733.5,218.5 L734.5,219.9 L735.5,223.2 L736.5,226.8 L737.5,229.6 L738.5,230.9 L739.5,233.3 L740.5,234.7 L741.5,237.0 L742.5,239.7 L743.5,241.2 L744.5,242.1 L745.5,242.0 L746.5,242.1 L747.5,241.6 L748.5,242.4 L749.5,241.8 L750.5,241.1 L751.5,239.8 L752.5,238.5 L753.5,237.9 L754.5,237.5 L755.5,237.7 L756.5,238.1 L757.5,238.4 L758.5,239.3 L759.5,240.4 L760.5,241.0 L761.5,242.3 L762.5,243.1 L763.5,243.1 L764.5,244.1 L765.5,244.4 L766.5,244.9 L767.5,244.5 L768.5,241.8 L769.5,238.7 L770.5,237.0 L771.5,234.8 L772.5,232.9 L773.5,232.5 L774.5,231.7 L775.5,231.9 L776.5,232.2 L777.5,234.4 L778.5,236.8 L779.5,239.7 L780.5,241.8 L781.5,244.3 L782.5,246.1 L783.5,247.1 L784.5,248.3 L785.5,248.4 L786.5,249.0 L787.5,249.9 L788.5,252.0 L789.5,254.3 L790.5,256.0 L791.5,257.6 L792.5,259.6 L793.5,261.7 L794.5,263.4 L795.5,266.0 L796.5,267.1 L797.5,267.0 L798.5,267.4 L799.5,267.3 L800.5,268.2 L801.5,269.5 L802.5,271.0 L803.5,273.1 L804.5,275.1 L805.5,277.7 L806.5,281.4 L807.5,285.4 L808.5,288.9 L809.5,292.6 L810.5,296.0 L811.5,298.9 L812.5,301.6 L813.5,304.1 L814.5,306.3 L815.5,306.6 L816.5,306.1 L817.5,305.8 L818.5,305.2 L819.5,304.3 L820.5,304.4 L821.5,305.0 L822.5,304.6 L823.5,304.2 L824.5,304.5 L825.5,306.2 L826.5,308.5 L827.5,310.7 L828.5,313.2 L829.5,316.3 L830.5,318.6 L831.5,320.0 L832.5,322.3 L833.5,324.4 L834.5,325.7 L835.5,326.9 L836.5,328.1 L837.5,329.7 L838.5,330.4 L839.5,329.8 L840.5,328.2 L841.5,326.8 L842.5,324.9 L843.5,322.4 L844.5,320.3 L845.5,317.9 L846.5,315.3 L847.5,311.3 L848.5,307.7 L849.5,303.8 L850.5,301.9 L851.5,300.0 L852.5,298.8 L853.5,298.3 L854.5,297.3 L855.5,296.7 L856.5,296.0 L857.5,295.9 L858.5,297.0 L859.5,299.7 L860.5,300.5 L861.5,302.2 L862.5,303.5 L863.5,304.2 L864.5,305.3 L865.5,306.1 L866.5,306.6 L867.5,307.8 L868.5,308.2 L869.5,308.9 L870.5,310.6 L871.5,312.5 L872.5,315.9 L873.5,319.6 L874.5,323.5 L875.5,327.3 L876.5,331.9 L877.5,337.0 L878.5,342.7 L879.5,347.7 L880.5,352.5 L881.5,356.2 L882.5,358.7 L883.5,360.7 L884.5,362.4 L885.5,364.3 L886.5,365.8 L887.5,366.4 L888.5,366.5 L889.5,366.7 L890.5,366.8 L891.5,367.3 L892.5,367.4 L893.5,368.2 L894.5,369.2 L895.5,369.9 L896.5,370.9 L897.5,372.0 L898.5,372.8 L899.5,373.4 L900.5,373.7 L901.5,373.1 L902.5,372.6 L903.5,371.1 L904.5,369.8 L905.5,368.0 L906.5,365.8 L907.5,363.4 L908.5,361.7 L909.5,360.6 L910.5,358.7 L911.5,358.0 L912.5,357.8 L913.5,358.5 L914.5,359.0 L915.5,361.1 L916.5,362.8 L917.5,364.0 L918.5,365.1 L919.5,365.0 L920.5,366.2 L921.5,366.9 L922.5,367.4 L923.5,367.8 L924.5,367.8 L925.5,366.6 L926.5,365.5 L927.5,365.6 L928.5,365.4 L929.5,365.5 L930.5,365.2 L931.5,365.1 L932.5,365.2 L933.5,364.9 L934.5,365.5 L935.5,367.3 L936.5,369.8 L937.5,372.4 L938.5,374.6 L939.5,377.6 L940.5,380.7 L941.5,384.6 L942.5,387.7 L943.5,391.2 L944.5,394.4 L945.5,397.2 L946.5,399.6 L947.5,403.1 L948.5,407.4 L949.5,408.9 L950.5,409.0 L951.5,407.9 L952.5,406.4 L953.5,404.0 L954.5,401.5 L955.5,398.5 L956.5,395.1 L957.5,390.1 L958.5,384.9 L959.5,381.5 L960.5,379.4 L961.5,377.9 L962.5,377.3 L963.5,377.6 L964.5,377.3 L965.5,378.0 L966.5,379.3 L967.5,380.8 L968.5,382.5 L969.5,384.9 L970.5,387.5 L971.5,390.2 L972.5,392.9 L973.5,395.7 L974.5,399.0 L975.5,401.6 L976.5,404.4 L977.5,407.0 L978.5,408.9 L979.5,409.5 L980.5,409.4 L981.5,409.3 L982.5,408.7 L983.5,407.5 L984.5,406.4 L985.5,405.5 L986.5,404.2 L987.5,403.2 L988.5,403.2 L989.5,404.3 L990.5,405.9 L991.5,407.3 L992.5,408.8 L993.5,410.6 L994.5,412.1 L995.5,413.3 L996.5,414.5 L997.5,415.3 L998.5,415.4 L999.5,415.3 L1000.5,414.6 L1001.5,413.7 L1002.5,412.7 L1003.5,411.5 L1004.5,410.1 L1005.5,408.6 L1006.5,406.3 L1007.5,403.8 L1008.5,400.7 L1009.5,398.1 L1010.5,395.9 L1011.5,394.4 L1012.5,393.5 L1013.5,391.9 L1014.5,390.4 L1015.5,388.9 L1016.5,387.8 L1017.5,386.8 L1018.5,385.8 L1019.5,384.7 L1020.5,383.5 L1021.5,381.7 L1022.5,379.4 L1023.5,378.3 L1024.5,376.8 L1025.5,375.3 L1026.5,373.8 L1027.5,371.9 L1028.5,371.5 L1029.5,371.3 L1030.5,371.9 L1031.5,372.7 L1032.5,374.0 L1033.5,375.8 L1034.5,377.7 L1035.5,380.0 L1036.5,382.8 L1037.5,385.8 L1038.5,387.8 L1039.5,389.9 L1040.5,391.7 L1041.5,393.8 L1042.5,395.7 L1043.5,397.3 L1044.5,398.7 L1045.5,400.2 L1046.5,401.2 L1047.5,402.4 L1048.5,403.9 L1049.5,405.6 L1050.5,407.0 L1051.5,407.7 L1052.5,407.8 L1053.5,407.9 L1054.5,408.0 L1055.5,408.1 L1056.5,408.6 L1057.5,409.1 L1058.5,409.9 L1059.5,409.5 L1060.5,408.7 L1061.5,407.9 L1062.5,407.4 L1063.5,407.1 L1064.5,406.9 L1065.5,406.3 L1066.5,405.7 L1067.5,405.4 L1068.5,404.9 L1069.5,405.1 L1070.5,405.8 L1071.5,406.7 L1072.5,407.4 L1073.5,407.5 L1074.5,407.8 L1075.5,408.1 L1076.5,408.8 L1077.5,409.7 L1078.5,410.8 L1079.5,412.1" stroke="#3d7bff"/>
<path d="M5.5,250.1 L6.5,250.7 L7.5,251.1 L8.5,251.7 L9.5,252.1 L10.5,254.4 L11.5,257.6 L12.5,261.4 L13.5,266.2 L14.5,271.5 L15.5,276.4 L16.5,279.0 L17.5,279.4 L18.5,279.5 L19.5,279.1 L20.5,277.5 L21.5,274.9 L22.5,273.3 L23.5,270.9 L24.5,269.1 L25.5,268.0 L26.5,268.3 L27.5,269.4 L28.5,269.4 L29.5,269.4 L30.5,269.0 L31.5,267.9 L32.5,267.9 L33.5,268.2 L34.5,269.3 L35.5,270.1 L36.5,272.1 L37.5,273.2 L38.5,275.4 L39.5,277.4 L40.5,279.9 L41.5,281.9 L42.5,283.2 L43.5,284.6 L44.5,286.7 L45.5,288.0 L46.5,290.2 L47.5,293.1 L48.5,294.0 L49.5,293.6 L50.5,294.2 L51.5,292.3 L52.5,290.2 L53.5,289.7 L54.5,288.6 L55.5,287.6 L56.5,289.1 L57.5,289.9 L58.5,292.3 L59.5,296.1 L60.5,300.3 L61.5,304.7 L62.5,309.3 L63.5,312.3 L64.5,314.0 L65.5,316.0 L66.5,316.5 L67.5,316.6 L68.5,315.6 L69.5,314.7 L70.5,312.5 L71.5,311.9 L72.5,310.1 L73.5,308.7 L74.5,308.5 L75.5,309.2 L76.5,308.5 L77.5,308.0 L78.5,306.7 L79.5,306.8 L80.5,306.5 L81.5,306.9 L82.5,310.6 L83.5,316.3 L84.5,320.1 L85.5,324.1 L86.5,328.5 L87.5,332.5 L88.5,334.9 L89.5,336.7 L90.5,337.7 L91.5,336.6 L92.5,335.2 L93.5,334.8 L94.5,334.8 L95.5,334.2 L96.5,335.4 L97.5,336.8 L98.5,337.0 L99.5,337.8 L100.5,340.7 L101.5,341.6 L102.5,342.2 L103.5,342.9 L104.5,342.0 L105.5,339.8 L106.5,338.9 L107.5,336.9 L108.5,335.6 L109.5,334.2 L110.5,332.8 L111.5,331.9 L112.5,330.8 L113.5,328.8 L114.5,328.3 L115.5,328.4 L116.5,326.9 L117.5,324.9 L118.5,323.9 L119.5,322.3 L120.5,320.1 L121.5,319.6 L122.5,318.9 L123.5,319.1 L124.5,318.4 L125.5,318.1 L126.5,318.0 L127.5,319.8 L128.5,320.7 L129.5,323.1 L130.5,325.9 L131.5,328.6 L132.5,331.7 L133.5,335.0 L134.5,338.5 L135.5,342.0 L136.5,345.0 L137.5,347.7 L138.5,350.5 L139.5,353.2 L140.5,354.6 L141.5,355.2 L142.5,354.8 L143.5,354.0 L144.5,352.2 L145.5,349.7 L146.5,347.1 L147.5,344.7 L148.5,339.3 L149.5,334.2 L150.5,330.9 L151.5,328.3 L152.5,325.4 L153.5,324.9 L154.5,324.6 L155.5,323.6 L156.5,321.6 L157.5,321.1 L158.5,320.1 L159.5,317.7 L160.5,315.4 L161.5,313.6 L162.5,310.5 L163.5,306.7 L164.5,304.6 L165.5,303.8 L166.5,302.0 L167.5,300.9 L168.5,302.4 L169.5,303.6 L170.5,304.4 L171.5,304.8 L172.5,305.1 L173.5,304.2 L174.5,303.1 L175.5,301.5 L176.5,298.9 L177.5,297.0 L178.5,294.0 L179.5,291.6 L180.5,287.7 L181.5,286.9 L182.5,285.4 L183.5,284.5 L184.5,282.6 L185.5,283.1 L186.5,283.5 L187.5,283.8 L188.5,286.4 L189.5,289.3 L190.5,290.3 L191.5,292.7 L192.5,292.6 L193.5,291.8 L194.5,290.4 L195.5,290.0 L196.5,288.5 L197.5,289.0 L198.5,289.3 L199.5,289.1 L200.5,288.7 L201.5,288.7 L202.5,287.9 L203.5,286.3 L204.5,285.3 L205.5,285.9 L206.5,285.5 L207.5,286.2 L208.5,285.7 L209.5,285.7 L210.5,283.4 L211.5,282.0 L212.5,280.8 L213.5,279.6 L214.5,279.8 L215.5,280.9 L216.5,280.6 L217.5,278.4 L218.5,279.6 L219.5,279.2 L220.5,278.4 L221.5,278.4 L222.5,279.5 L223.5,279.2 L224.5,277.5 L225.5,276.8 L226.5,276.2 L227.5,276.6 L228.5,276.3 L229.5,277.8 L230.5,280.4 L231.5,283.2 L232.5,285.9 L233.5,290.4 L234.5,294.7 L235.5,296.5 L236.5,299.0 L237.5,300.9 L238.5,303.1 L239.5,306.0 L240.5,309.8 L241.5,313.0 L242.5,317.1 L243.5,319.6 L244.5,322.4 L245.5,324.9 L246.5,327.4 L247.5,329.6 L248.5,331.3 L249.5,330.4 L250.5,329.7 L251.5,326.4 L252.5,322.0 L253.5,317.2 L254.5,315.2 L255.5,312.0 L256.5,310.8 L257.5,309.9 L258.5,309.5 L259.5,307.4 L260.5,306.7 L261.5,306.8 L262.5,306.3 L263.5,306.0 L264.5,306.2 L265.5,305.1 L266.5,301.7 L267.5,298.9 L268.5,297.5 L269.5,295.0 L270.5,294.2 L271.5,296.1 L272.5,298.8 L273.5,299.6 L274.5,301.5 L275.5,302.4 L276.5,300.9 L277.5,298.2 L278.5,296.4 L279.5,295.2 L280.5,293.8 L281.5,293.0 L282.5,292.6 L283.5,291.4 L284.5,290.3 L285.5,289.8 L286.5,291.0 L287.5,291.4 L288.5,293.9 L289.5,295.8 L290.5,297.7 L291.5,300.5 L292.5,304.8 L293.5,307.1 L294.5,308.9 L295.5,311.1 L296.5,310.7 L297.5,309.9 L298.5,308.7 L299.5,306.6 L300.5,303.0 L301.5,301.1 L302.5,299.3 L303.5,298.4 L304.5,297.3 L305.5,299.2 L306.5,300.9 L307.5,301.9 L308.5,302.6 L309.5,305.1 L310.5,303.4 L311.5,301.1 L312.5,300.1 L313.5,297.6 L314.5,294.9 L315.5,295.3 L316.5,294.7 L317.5,293.3 L318.5,293.7 L319.5,292.5 L320.5,290.5 L321.5,289.6 L322.5,288.9 L323.5,287.3 L324.5,287.4 L325.5,287.5 L326.5,288.4 L327.5,290.4 L328.5,293.4 L329.5,295.8 L330.5,298.5 L331.5,302.9 L332.5,305.4 L333.5,307.3 L334.5,307.2 L335.5,308.0 L336.5,306.5 L337.5,305.7 L338.5,304.3 L339.5,304.1 L340.5,302.4 L341.5,299.1 L342.5,297.0 L343.5,296.0 L344.5,295.3 L345.5,296.1 L346.5,298.5 L347.5,297.4 L348.5,295.9 L349.5,295.2 L350.5,293.2 L351.5,290.3 L352.5,288.6 L353.5,288.7 L354.5,288.2 L355.5,286.0 L356.5,283.7 L357.5,283.8 L358.5,282.3 L359.5,281.6 L360.5,282.1 L361.5,282.2 L362.5,281.3 L363.5,279.2 L364.5,277.5 L365.5,277.3 L366.5,278.1 L367.5,277.3 L368.5,277.5 L369.5,276.7 L370.5,274.7 L371.5,272.1 L372.5,269.7 L373.5,267.1 L374.5,265.2 L375.5,263.6 L376.5,261.5 L377.5,260.3 L378.5,259.6 L379.5,258.1 L380.5,256.8 L381.5,256.0 L382.5,255.1 L383.5,253.6 L384.5,251.2 L385.5,249.5 L386.5,248.6 L387.5,247.4 L388.5,245.8 L389.5,245.5 L390.5,243.6 L391.5,240.0 L392.5,238.1 L393.5,236.4 L394.5,235.5 L395.5,234.4 L396.5,232.6 L397.5,230.2 L398.5,230.2 L399.5,227.9 L400.5,225.5 L401.5,224.6 L402.5,223.8 L403.5,221.8 L404.5,221.4 L405.5,223.7 L406.5,226.5 L407.5,229.2 L408.5,232.6 L409.5,237.8 L410.5,242.7 L411.5,247.2 L412.5,249.4 L413.5,250.2 L414.5,249.4 L415.5,246.6 L416.5,244.2 L417.5,242.9 L418.5,241.2 L419.5,238.2 L420.5,238.1 L421.5,237.4 L422.5,236.0 L423.5,234.9 L424.5,236.8 L425.5,235.6 L426.5,235.8 L427.5,237.7 L428.5,240.0 L429.5,239.8 L430.5,242.3 L431.5,245.1 L432.5,247.8 L433.5,250.2 L434.5,252.1 L435.5,252.9 L436.5,252.2 L437.5,251.6 L438.5,251.9 L439.5,253.3 L440.5,255.9 L441.5,258.6 L442.5,261.7 L443.5,265.6 L444.5,269.1 L445.5,272.6 L446.5,276.4 L447.5,280.7 L448.5,283.9 L449.5,286.5 L450.5,286.6 L451.5,286.0 L452.5,282.7 L453.5,280.7 L454.5,278.5 L455.5,277.3 L456.5,275.3 L457.5,274.5 L458.5,270.9 L459.5,269.2 L460.5,268.0 L461.5,265.6 L462.5,263.1 L463.5,261.8 L464.5,256.9 L465.5,250.8 L466.5,247.2 L467.5,243.9 L468.5,239.8 L469.5,239.5 L470.5,241.0 L471.5,243.5 L472.5,246.5 L473.5,251.3 L474.5,254.9 L475.5,256.0 L476.5,256.5 L477.5,256.5 L478.5,256.0 L479.5,256.4 L480.5,259.1 L481.5,261.6 L482.5,262.1 L483.5,261.8 L484.5,260.7 L485.5,258.6 L486.5,255.7 L487.5,254.0 L488.5,251.7 L489.5,249.3 L490.5,246.5 L491.5,245.0 L492.5,244.3 L493.5,245.8 L494.5,246.2 L495.5,247.4 L496.5,248.3 L497.5,247.5 L498.5,246.0 L499.5,245.1 L500.5,242.6 L501.5,239.8 L502.5,238.0 L503.5,236.2 L504.5,234.8 L505.5,234.3 L506.5,232.9 L507.5,232.0 L508.5,230.7 L509.5,229.9 L510.5,229.3 L511.5,228.8 L512.5,227.3 L513.5,226.8 L514.5,225.9 L515.5,225.4 L516.5,227.0 L517.5,229.6 L518.5,231.4 L519.5,232.9 L520.5,233.4 L521.5,234.3 L522.5,230.8 L523.5,225.2 L524.5,214.7 L525.5,206.8 L526.5,195.5 L527.5,190.0 L528.5,186.9 L529.5,188.8 L530.5,190.1 L531.5,191.3 L532.5,190.9 L533.5,190.1 L534.5,189.7 L535.5,188.1 L536.5,188.1 L537.5,188.4 L538.5,187.4 L539.5,187.4 L540.5,185.9 L541.5,184.8 L542.5,184.6 L543.5,183.6 L544.5,180.3 L545.5,180.1 L546.5,179.7 L547.5,177.9 L548.5,179.5 L549.5,182.3 L550.5,183.7 L551.5,183.7 L552.5,185.8 L553.5,186.3 L554.5,184.3 L555.5,181.2 L556.5,176.7 L557.5,169.7 L558.5,159.3 L559.5,151.4 L560.5,143.1 L561.5,136.6 L562.5,131.7 L563.5,132.5 L564.5,132.8 L565.5,134.6 L566.5,139.4 L567.5,143.8 L568.5,147.2 L569.5,151.7 L570.5,155.9 L571.5,156.2 L572.5,158.1 L573.5,157.9 L574.5,157.6 L575.5,156.7 L576.5,158.3 L577.5,156.3 L578.5,158.0 L579.5,159.3 L580.5,158.8 L581.5,155.3 L582.5,151.5 L583.5,146.1 L584.5,139.4 L585.5,135.0 L586.5,132.6 L587.5,132.0 L588.5,128.3 L589.5,125.5 L590.5,120.5 L591.5,116.8 L592.5,113.7 L593.5,112.7 L594.5,110.9 L595.5,110.4 L596.5,109.8 L597.5,108.1 L598.5,108.3 L599.5,108.4 L600.5,108.0 L601.5,105.6 L602.5,104.1 L603.5,101.1 L604.5,100.3 L605.5,103.6 L606.5,110.3 L607.5,118.5 L608.5,128.6 L609.5,135.7 L610.5,140.9 L611.5,148.4 L612.5,152.0 L613.5,155.3 L614.5,161.5 L615.5,167.8 L616.5,170.7 L617.5,175.6 L618.5,178.1 L619.5,178.1 L620.5,176.9 L621.5,171.4 L622.5,164.7 L623.5,160.2 L624.5,156.8 L625.5,154.2 L626.5,157.1 L627.5,160.4 L628.5,163.4 L629.5,167.0 L630.5,170.1 L631.5,171.3 L632.5,172.8 L633.5,172.0 L634.5,171.7 L635.5,172.4 L636.5,172.3 L637.5,173.0 L638.5,176.6 L639.5,178.8 L640.5,182.0 L641.5,187.9 L642.5,193.1 L643.5,198.0 L644.5,204.3 L645.5,210.3 L646.5,213.7 L647.5,217.9 L648.5,219.9 L649.5,220.7 L650.5,219.9 L651.5,217.9 L652.5,217.4 L653.5,217.7 L654.5,215.5 L655.5,214.5 L656.5,213.1 L657.5,208.4 L658.5,202.2 L659.5,195.8 L660.5,188.0 L661.5,182.9 L662.5,177.9 L663.5,173.8 L664.5,171.9 L665.5,170.5 L666.5,169.5 L667.5,171.2 L668.5,172.7 L669.5,174.1 L670.5,176.8 L671.5,176.0 L672.5,172.7 L673.5,170.9 L674.5,169.5 L675.5,165.0 L676.5,162.6 L677.5,162.9 L678.5,163.3 L679.5,162.8 L680.5,166.4 L681.5,171.6 L682.5,177.7 L683.5,183.5 L684.5,190.7 L685.5,196.1 L686.5,201.5 L687.5,205.5 L688.5,208.2 L689.5,211.4 L690.5,213.6 L691.5,214.1 L692.5,214.0 L693.5,215.4 L694.5,214.1 L695.5,214.0 L696.5,214.5 L697.5,213.7 L698.5,213.8 L699.5,214.1 L700.5,214.0 L701.5,211.4 L702.5,209.3 L703.5,208.0 L704.5,209.2 L705.5,210.8 L706.5,215.2 L707.5,219.1 L708.5,220.4 L709.5,221.1 L710.5,219.9 L711.5,218.3 L712.5,218.0 L713.5,219.4 L714.5,217.3 L715.5,214.7 L716.5,211.5 L717.5,208.6 L718.5,206.6 L719.5,206.2 L720.5,210.4 L721.5,213.8 L722.5,216.7 L723.5,217.4 L724.5,219.4 L725.5,216.7 L726.5,213.4 L727.5,211.6 L728.5,211.3 L729.5,211.1 L730.5,215.1 L731.5,219.9 L732.5,222.9 L733.5,225.8 L734.5,228.7 L735.5,231.4 L736.5,233.6 L737.5,236.4 L738.5,236.0 L739.5,237.8 L740.5,238.0 L741.5,240.5 L742.5,243.1 L743.5,246.4 L744.5,246.4 L745.5,245.9 L746.5,243.7 L747.5,240.1 L748.5,238.5 L749.5,237.1 L750.5,236.2 L751.5,236.0 L752.5,237.0 L753.5,237.3 L754.5,237.9 L755.5,239.1 L756.5,240.2 L757.5,239.8 L758.5,241.3 L759.5,242.8 L760.5,242.8 L761.5,244.3 L762.5,246.3 L763.5,245.0 L764.5,245.3 L765.5,246.1 L766.5,245.6 L767.5,242.6 L768.5,238.6 L769.5,232.0 L770.5,228.0 L771.5,223.9 L772.5,223.1 L773.5,226.4 L774.5,231.4 L775.5,235.8 L776.5,240.6 L777.5,245.7 L778.5,247.3 L779.5,248.1 L780.5,247.8 L781.5,248.1 L782.5,246.4 L783.5,246.9 L784.5,248.6 L785.5,249.0 L786.5,250.0 L787.5,253.5 L788.5,257.0 L789.5,260.0 L790.5,263.0 L791.5,265.2 L792.5,265.8 L793.5,266.3 L794.5,266.7 L795.5,269.0 L796.5,269.0 L797.5,268.2 L798.5,268.5 L799.5,267.8 L800.5,267.4 L801.5,270.0 L802.5,273.7 L803.5,277.7 L804.5,282.3 L805.5,288.0 L806.5,292.8 L807.5,297.1 L808.5,300.1 L809.5,302.9 L810.5,304.0 L811.5,305.1 L812.5,306.2 L813.5,308.1 L814.5,309.8 L815.5,309.1 L816.5,307.2 L817.5,305.5 L818.5,302.2 L819.5,298.9 L820.5,299.8 L821.5,302.7 L822.5,303.7 L823.5,306.2 L824.5,310.2 L825.5,312.6 L826.5,314.3 L827.5,317.8 L828.5,320.1 L829.5,322.5 L830.5,324.6 L831.5,325.7 L832.5,326.8 L833.5,328.6 L834.5,328.9 L835.5,329.2 L836.5,330.6 L837.5,332.6 L838.5,332.1 L839.5,330.7 L840.5,327.2 L841.5,323.0 L842.5,317.2 L843.5,312.7 L844.5,310.0 L845.5,308.5 L846.5,307.6 L847.5,305.4 L848.5,302.7 L849.5,297.6 L850.5,295.2 L851.5,292.4 L852.5,292.3 L853.5,294.0 L854.5,297.0 L855.5,298.1 L856.5,299.6 L857.5,299.6 L858.5,299.9 L859.5,302.4 L860.5,302.9 L861.5,304.7 L862.5,307.3 L863.5,308.5 L864.5,308.3 L865.5,309.4 L866.5,308.5 L867.5,308.3 L868.5,307.9 L869.5,309.5 L870.5,311.8 L871.5,316.5 L872.5,323.5 L873.5,331.3 L874.5,337.4 L875.5,342.9 L876.5,347.3 L877.5,350.4 L878.5,354.2 L879.5,358.0 L880.5,362.2 L881.5,365.1 L882.5,367.0 L883.5,367.2 L884.5,366.8 L885.5,366.5 L886.5,366.4 L887.5,365.8 L888.5,365.8 L889.5,366.5 L890.5,367.2 L891.5,368.3 L892.5,369.0 L893.5,370.5 L894.5,372.0 L895.5,372.5 L896.5,373.5 L897.5,374.9 L898.5,375.0 L899.5,374.9 L900.5,374.9 L901.5,372.7 L902.5,370.2 L903.5,367.1 L904.5,364.7 L905.5,361.1 L906.5,358.8 L907.5,356.6 L908.5,356.4 L909.5,356.4 L910.5,356.4 L911.5,357.1 L912.5,358.9 L913.5,360.6 L914.5,361.6 L915.5,365.8 L916.5,368.5 L917.5,369.1 L918.5,369.6 L919.5,368.5 L920.5,366.6 L921.5,365.4 L922.5,365.6 L923.5,366.0 L924.5,367.2 L925.5,366.5 L926.5,365.7 L927.5,365.6 L928.5,364.9 L929.5,363.8 L930.5,364.0 L931.5,364.5 L932.5,364.9 L933.5,365.0 L934.5,367.1 L935.5,370.5 L936.5,375.2 L937.5,380.0 L938.5,384.2 L939.5,388.1 L940.5,391.0 L941.5,394.0 L942.5,395.5 L943.5,398.2 L944.5,400.6 L945.5,403.4 L946.5,405.2 L947.5,410.8 L948.5,416.6 L949.5,417.3 L950.5,414.6 L951.5,410.7 L952.5,402.1 L953.5,391.3 L954.5,385.8 L955.5,382.4 L956.5,379.5 L957.5,378.1 L958.5,378.5 L959.5,377.3 L960.5,376.4 L961.5,376.2 L962.5,376.5 L963.5,376.7 L964.5,377.3 L965.5,379.7 L966.5,382.4 L967.5,385.1 L968.5,388.2 L969.5,392.5 L970.5,395.4 L971.5,398.1 L972.5,400.6 L973.5,403.3 L974.5,405.6 L975.5,407.8 L976.5,410.8 L977.5,413.4 L978.5,414.5 L979.5,413.5 L980.5,411.0 L981.5,407.7 L982.5,403.9 L983.5,400.4 L984.5,399.4 L985.5,400.1 L986.5,400.7 L987.5,402.6 L988.5,406.0 L989.5,409.3 L990.5,411.6 L991.5,413.9 L992.5,415.1 L993.5,415.2 L994.5,415.0 L995.5,414.9 L996.5,415.2 L997.5,415.4 L998.5,415.7 L999.5,415.6 L1000.5,414.3 L1001.5,412.3 L1002.5,410.0 L1003.5,407.3 L1004.5,404.6 L1005.5,403.0 L1006.5,400.3 L1007.5,397.5 L1008.5,394.1 L1009.5,391.5 L1010.5,388.8 L1011.5,388.6 L1012.5,389.5 L1013.5,389.7 L1014.5,389.4 L1015.5,389.1 L1016.5,386.9 L1017.5,384.1 L1018.5,381.8 L1019.5,379.9 L1020.5,378.0 L1021.5,376.6 L1022.5,374.8 L1023.5,374.7 L1024.5,373.6 L1025.5,372.5 L1026.5,371.1 L1027.5,369.1 L1028.5,368.3 L1029.5,369.1 L1030.5,371.3 L1031.5,374.2 L1032.5,379.0 L1033.5,383.3 L1034.5,386.4 L1035.5,388.8 L1036.5,391.5 L1037.5,392.6 L1038.5,392.4 L1039.5,393.4 L1040.5,394.6 L1041.5,396.0 L1042.5,398.8 L1043.5,402.1 L1044.5,404.1 L1045.5,405.8 L1046.5,406.4 L1047.5,406.0 L1048.5,405.8 L1049.5,407.0 L1050.5,408.2 L1051.5,408.9 L1052.5,409.7 L1053.5,410.1 L1054.5,408.9 L1055.5,408.1 L1056.5,408.2 L1057.5,408.5 L1058.5,409.7 L1059.5,410.2 L1060.5,409.3 L1061.5,407.7 L1062.5,406.4 L1063.5,404.5 L1064.5,403.7 L1065.5,403.3 L1066.5,403.6 L1067.5,404.5 L1068.5,405.3 L1069.5,406.6 L1070.5,408.3 L1071.5,409.8 L1072.5,410.3 L1073.5,409.7 L1074.5,409.0 L1075.5,408.0 L1076.5,407.9 L1077.5,409.2 L1078.5,411.9 L1079.5,415.1" stroke="#ffa51f"/>
</g>
<!-- last price -->
<path d="M5,423.5H1083" stroke="#ff9800" stroke-width="1" stroke-dasharray="2,2" fill="none"/>
<rect x="1083.5" y="415.5" width="57" height="16" fill="#fff3e8" stroke="#ff9800"/>
<text x="1085.2" y="428" font-size="11" fill="#4a5266" letter-spacing="-0.35">81.60</text>
<!-- extremes -->
<path d="M581,94.5H601.5V97M927,435.5H948.5V433" stroke="#444" stroke-width="1" fill="none"/>
<g font-size="11" fill="#70757f" letter-spacing="-0.35"><text x="547.8" y="93.6">319.32</text><text x="900.6" y="436.2">73.28</text></g>
<!-- earnings -->
<g fill="#fff" stroke="#ff8410" stroke-width="1.2"><circle cx="103.0" cy="443" r="6.5"/><circle cx="161.0" cy="443" r="6.5"/><circle cx="234.5" cy="443" r="6.5"/><circle cx="298.0" cy="443" r="6.5"/><circle cx="353.5" cy="443" r="6.5"/><circle cx="423.5" cy="443" r="6.5"/><circle cx="492.5" cy="443" r="6.5"/><circle cx="554.0" cy="443" r="6.5"/><circle cx="608.5" cy="443" r="6.5"/><circle cx="667.5" cy="443" r="6.5"/><circle cx="738.0" cy="443" r="6.5"/><circle cx="793.0" cy="443" r="6.5"/><circle cx="869.5" cy="443" r="6.5"/><circle cx="935.5" cy="443" r="6.5"/><circle cx="999.0" cy="443" r="6.5"/><circle cx="1046.5" cy="443" r="6.5"/></g>
<g font-size="9.5" fill="#ff8410" text-anchor="middle"><text x="103.1" y="446">E</text><text x="161.1" y="446">E</text><text x="234.6" y="446">E</text><text x="298.1" y="446">E</text><text x="353.6" y="446">E</text><text x="423.6" y="446">E</text><text x="492.6" y="446">E</text><text x="554.1" y="446">E</text><text x="608.6" y="446">E</text><text x="667.6" y="446">E</text><text x="738.1" y="446">E</text><text x="793.1" y="446">E</text><text x="869.6" y="446">E</text><text x="935.6" y="446">E</text><text x="999.1" y="446">E</text><text x="1046.6" y="446">E</text></g>
</svg>
</body>
</html>
